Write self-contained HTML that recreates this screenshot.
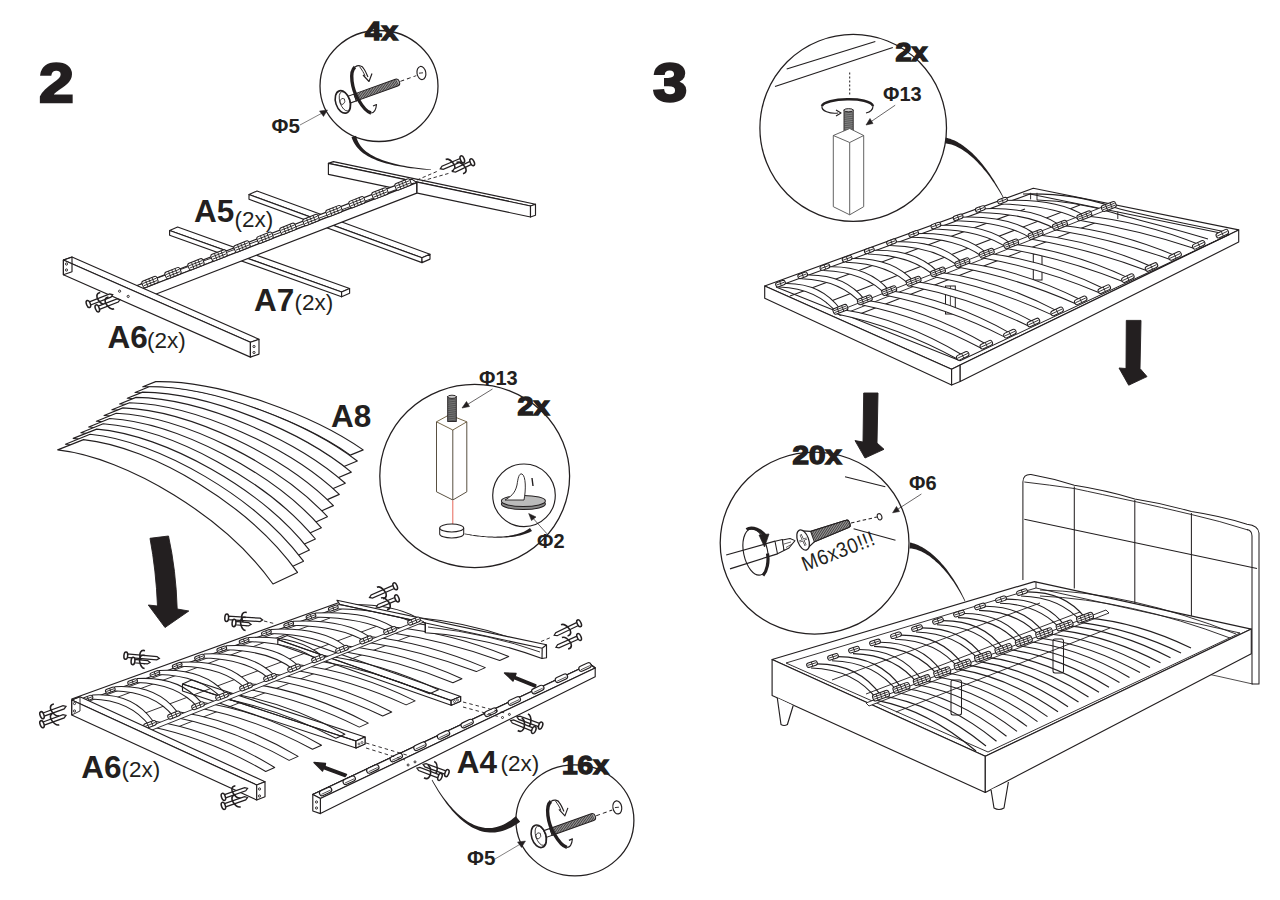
<!DOCTYPE html>
<html><head><meta charset="utf-8"><style>
html,body{margin:0;padding:0;background:#fff;}
svg{display:block;}
</style></head><body>
<svg width="1280" height="900" viewBox="0 0 1280 900">
<text transform="translate(39 102.3) scale(1.1 0.97)" x="0" y="0" font-family="Liberation Sans" font-size="57" font-weight="bold" fill="#231f20" stroke="#231f20" stroke-width="2.40">2</text>
<text transform="translate(653 101.2) scale(1.08 0.955)" x="0" y="0" font-family="Liberation Sans" font-size="57" font-weight="bold" fill="#231f20" stroke="#231f20" stroke-width="2.40">3</text>
<ellipse cx="379.0" cy="86.0" rx="59.0" ry="55.5" fill="#fff" stroke="#231f20" stroke-width="1.26" />
<g transform="translate(342.9 101.9) rotate(-19.7)">
<rect x="3" y="-3.6" width="10" height="7.2" fill="#fff" stroke="#231f20" stroke-width="1.03"/>
<path d="M13 -3.6 L57 -3.6 Q60 -3.6 60 0 Q60 3.6 57 3.6 L13 3.6 Z" fill="#aaa" stroke="#231f20" stroke-width="1.03"/>
<line x1="13.6" y1="-3.4" x2="14.6" y2="3.4" stroke="#231f20" stroke-width="0.69"/>
<line x1="15.2" y1="-3.4" x2="16.1" y2="3.4" stroke="#231f20" stroke-width="0.69"/>
<line x1="16.7" y1="-3.4" x2="17.7" y2="3.4" stroke="#231f20" stroke-width="0.69"/>
<line x1="18.2" y1="-3.4" x2="19.2" y2="3.4" stroke="#231f20" stroke-width="0.69"/>
<line x1="19.8" y1="-3.4" x2="20.8" y2="3.4" stroke="#231f20" stroke-width="0.69"/>
<line x1="21.4" y1="-3.4" x2="22.4" y2="3.4" stroke="#231f20" stroke-width="0.69"/>
<line x1="22.9" y1="-3.4" x2="23.9" y2="3.4" stroke="#231f20" stroke-width="0.69"/>
<line x1="24.4" y1="-3.4" x2="25.4" y2="3.4" stroke="#231f20" stroke-width="0.69"/>
<line x1="26.0" y1="-3.4" x2="27.0" y2="3.4" stroke="#231f20" stroke-width="0.69"/>
<line x1="27.6" y1="-3.4" x2="28.6" y2="3.4" stroke="#231f20" stroke-width="0.69"/>
<line x1="29.1" y1="-3.4" x2="30.1" y2="3.4" stroke="#231f20" stroke-width="0.69"/>
<line x1="30.6" y1="-3.4" x2="31.6" y2="3.4" stroke="#231f20" stroke-width="0.69"/>
<line x1="32.2" y1="-3.4" x2="33.2" y2="3.4" stroke="#231f20" stroke-width="0.69"/>
<line x1="33.8" y1="-3.4" x2="34.8" y2="3.4" stroke="#231f20" stroke-width="0.69"/>
<line x1="35.3" y1="-3.4" x2="36.3" y2="3.4" stroke="#231f20" stroke-width="0.69"/>
<line x1="36.9" y1="-3.4" x2="37.9" y2="3.4" stroke="#231f20" stroke-width="0.69"/>
<line x1="38.4" y1="-3.4" x2="39.4" y2="3.4" stroke="#231f20" stroke-width="0.69"/>
<line x1="40.0" y1="-3.4" x2="41.0" y2="3.4" stroke="#231f20" stroke-width="0.69"/>
<line x1="41.5" y1="-3.4" x2="42.5" y2="3.4" stroke="#231f20" stroke-width="0.69"/>
<line x1="43.0" y1="-3.4" x2="44.0" y2="3.4" stroke="#231f20" stroke-width="0.69"/>
<line x1="44.6" y1="-3.4" x2="45.6" y2="3.4" stroke="#231f20" stroke-width="0.69"/>
<line x1="46.2" y1="-3.4" x2="47.2" y2="3.4" stroke="#231f20" stroke-width="0.69"/>
<line x1="47.7" y1="-3.4" x2="48.7" y2="3.4" stroke="#231f20" stroke-width="0.69"/>
<line x1="49.2" y1="-3.4" x2="50.2" y2="3.4" stroke="#231f20" stroke-width="0.69"/>
<line x1="50.8" y1="-3.4" x2="51.8" y2="3.4" stroke="#231f20" stroke-width="0.69"/>
<line x1="52.4" y1="-3.4" x2="53.4" y2="3.4" stroke="#231f20" stroke-width="0.69"/>
<line x1="53.9" y1="-3.4" x2="54.9" y2="3.4" stroke="#231f20" stroke-width="0.69"/>
<line x1="55.5" y1="-3.4" x2="56.5" y2="3.4" stroke="#231f20" stroke-width="0.69"/>
<line x1="57.0" y1="-3.4" x2="58.0" y2="3.4" stroke="#231f20" stroke-width="0.69"/>
<line x1="61" y1="0" x2="78" y2="0" stroke="#231f20" stroke-width="0.92" stroke-dasharray="4 3"/>
</g>
<ellipse cx="342.9" cy="101.9" rx="7.2" ry="11.6" fill="#fff" stroke="#231f20" stroke-width="1.60" transform="rotate(-18 342.9 101.9)" />
<ellipse cx="344.7" cy="101.3" rx="4.8" ry="10.0" fill="none" stroke="#231f20" stroke-width="0.80" transform="rotate(-18 344.7 101.3)" />
<path d="M339.9 100.9 l2 -2.5 l2.5 0.5 l0.5 3 l-2 2.5 l-2.5 -0.5 z" fill="none" stroke="#231f20" stroke-width="0.80" stroke-linejoin="round" />
<ellipse cx="421.4" cy="73.0" rx="4.4" ry="6.6" fill="#fff" stroke="#231f20" stroke-width="1.15" transform="rotate(-10 421.4 73.0)" />
<line x1="419.0" y1="73.2" x2="423.0" y2="72.8" stroke="#231f20" stroke-width="0.92" />
<path d="M355.0 67.0 C349.0 72.0 352.0 89.0 358.0 99.0 C362.0 106.0 367.0 112.0 371.0 113.0" fill="none" stroke="#231f20" stroke-width="3.40" stroke-linejoin="round" />
<path d="M355.0 67.0 C358.0 65.0 362.0 65.0 364.0 69.0 C366.0 72.0 367.0 75.0 368.0 77.0" fill="none" stroke="#231f20" stroke-width="1.15" stroke-linejoin="round" />
<path d="M363.0 75.0 L369.0 81.5 L372.0 73.5" fill="none" stroke="#231f20" stroke-width="1.15" stroke-linejoin="round" />
<path d="M359.5 66.5 C362.0 70.0 364.0 73.0 365.0 76.0" fill="none" stroke="#231f20" stroke-width="0.92" stroke-linejoin="round" />
<path d="M371.0 113.0 C374.0 113.0 376.0 110.0 376.5 104.5 L373.0 106.0" fill="none" stroke="#231f20" stroke-width="1.15" stroke-linejoin="round" />
<text transform="translate(365.0 40.0) scale(1.18 1)" font-family="Liberation Sans" font-size="25" font-weight="bold" fill="#231f20" stroke="#231f20" stroke-width="1.40" text-anchor="start">4x</text>
<text transform="translate(271.5 132.8) scale(1.03 1)" font-family="Liberation Sans" font-size="20" font-weight="bold" fill="#231f20" text-anchor="start">Φ5</text>
<line x1="300.0" y1="125.0" x2="325.0" y2="111.5" stroke="#231f20" stroke-width="0.57" />
<path d="M327.5 110 L319.5 111 L323.5 116.5 Z" fill="#231f20" stroke="#231f20" stroke-width="0.46" stroke-linejoin="round" />
<polygon points="351.5,137.2 351.9,138.3 352.4,139.4 352.9,140.6 353.4,141.7 354.0,142.8 354.7,144.0 355.4,145.1 356.2,146.2 357.0,147.2 357.9,148.3 358.9,149.3 360.0,150.4 361.1,151.4 362.3,152.4 363.6,153.4 364.9,154.3 366.4,155.3 367.9,156.2 369.5,157.1 371.3,157.9 373.1,158.8 375.0,159.6 377.0,160.4 379.2,161.2 381.4,162.0 383.8,162.7 386.3,163.4 388.9,164.1 391.6,164.8 394.5,165.4 397.5,166.0 400.6,166.6 403.9,167.1 407.3,167.7 410.8,168.2 414.5,168.6 418.4,169.1 422.4,169.5 426.6,169.8 431.0,170.1 431.0,169.5 426.7,169.0 422.5,168.6 418.5,168.1 414.7,167.6 411.0,167.0 407.5,166.4 404.1,165.8 400.9,165.2 397.8,164.5 394.8,163.8 392.0,163.1 389.3,162.3 386.8,161.6 384.4,160.8 382.1,160.0 379.9,159.1 377.9,158.3 376.0,157.4 374.2,156.5 372.4,155.6 370.9,154.7 369.4,153.8 368.0,152.8 366.7,151.9 365.5,150.9 364.4,149.9 363.3,149.0 362.4,148.0 361.5,147.0 360.7,146.0 360.0,145.0 359.4,144.0 358.8,143.0 358.2,142.0 357.8,141.0 357.3,139.9 357.0,138.9 356.6,137.9 356.3,136.9 356.1,135.8" fill="#231f20" stroke="none"/>
<ellipse cx="574.9" cy="820.4" rx="59.0" ry="55.5" fill="#fff" stroke="#231f20" stroke-width="1.26" />
<g transform="translate(538.8 836.3) rotate(-19.7)">
<rect x="3" y="-3.6" width="10" height="7.2" fill="#fff" stroke="#231f20" stroke-width="1.03"/>
<path d="M13 -3.6 L57 -3.6 Q60 -3.6 60 0 Q60 3.6 57 3.6 L13 3.6 Z" fill="#aaa" stroke="#231f20" stroke-width="1.03"/>
<line x1="13.6" y1="-3.4" x2="14.6" y2="3.4" stroke="#231f20" stroke-width="0.69"/>
<line x1="15.2" y1="-3.4" x2="16.1" y2="3.4" stroke="#231f20" stroke-width="0.69"/>
<line x1="16.7" y1="-3.4" x2="17.7" y2="3.4" stroke="#231f20" stroke-width="0.69"/>
<line x1="18.2" y1="-3.4" x2="19.2" y2="3.4" stroke="#231f20" stroke-width="0.69"/>
<line x1="19.8" y1="-3.4" x2="20.8" y2="3.4" stroke="#231f20" stroke-width="0.69"/>
<line x1="21.4" y1="-3.4" x2="22.4" y2="3.4" stroke="#231f20" stroke-width="0.69"/>
<line x1="22.9" y1="-3.4" x2="23.9" y2="3.4" stroke="#231f20" stroke-width="0.69"/>
<line x1="24.4" y1="-3.4" x2="25.4" y2="3.4" stroke="#231f20" stroke-width="0.69"/>
<line x1="26.0" y1="-3.4" x2="27.0" y2="3.4" stroke="#231f20" stroke-width="0.69"/>
<line x1="27.6" y1="-3.4" x2="28.6" y2="3.4" stroke="#231f20" stroke-width="0.69"/>
<line x1="29.1" y1="-3.4" x2="30.1" y2="3.4" stroke="#231f20" stroke-width="0.69"/>
<line x1="30.6" y1="-3.4" x2="31.6" y2="3.4" stroke="#231f20" stroke-width="0.69"/>
<line x1="32.2" y1="-3.4" x2="33.2" y2="3.4" stroke="#231f20" stroke-width="0.69"/>
<line x1="33.8" y1="-3.4" x2="34.8" y2="3.4" stroke="#231f20" stroke-width="0.69"/>
<line x1="35.3" y1="-3.4" x2="36.3" y2="3.4" stroke="#231f20" stroke-width="0.69"/>
<line x1="36.9" y1="-3.4" x2="37.9" y2="3.4" stroke="#231f20" stroke-width="0.69"/>
<line x1="38.4" y1="-3.4" x2="39.4" y2="3.4" stroke="#231f20" stroke-width="0.69"/>
<line x1="40.0" y1="-3.4" x2="41.0" y2="3.4" stroke="#231f20" stroke-width="0.69"/>
<line x1="41.5" y1="-3.4" x2="42.5" y2="3.4" stroke="#231f20" stroke-width="0.69"/>
<line x1="43.0" y1="-3.4" x2="44.0" y2="3.4" stroke="#231f20" stroke-width="0.69"/>
<line x1="44.6" y1="-3.4" x2="45.6" y2="3.4" stroke="#231f20" stroke-width="0.69"/>
<line x1="46.2" y1="-3.4" x2="47.2" y2="3.4" stroke="#231f20" stroke-width="0.69"/>
<line x1="47.7" y1="-3.4" x2="48.7" y2="3.4" stroke="#231f20" stroke-width="0.69"/>
<line x1="49.2" y1="-3.4" x2="50.2" y2="3.4" stroke="#231f20" stroke-width="0.69"/>
<line x1="50.8" y1="-3.4" x2="51.8" y2="3.4" stroke="#231f20" stroke-width="0.69"/>
<line x1="52.4" y1="-3.4" x2="53.4" y2="3.4" stroke="#231f20" stroke-width="0.69"/>
<line x1="53.9" y1="-3.4" x2="54.9" y2="3.4" stroke="#231f20" stroke-width="0.69"/>
<line x1="55.5" y1="-3.4" x2="56.5" y2="3.4" stroke="#231f20" stroke-width="0.69"/>
<line x1="57.0" y1="-3.4" x2="58.0" y2="3.4" stroke="#231f20" stroke-width="0.69"/>
<line x1="61" y1="0" x2="78" y2="0" stroke="#231f20" stroke-width="0.92" stroke-dasharray="4 3"/>
</g>
<ellipse cx="538.8" cy="836.3" rx="7.2" ry="11.6" fill="#fff" stroke="#231f20" stroke-width="1.60" transform="rotate(-18 538.8 836.3)" />
<ellipse cx="540.6" cy="835.7" rx="4.8" ry="10.0" fill="none" stroke="#231f20" stroke-width="0.80" transform="rotate(-18 540.6 835.7)" />
<path d="M535.8 835.3 l2 -2.5 l2.5 0.5 l0.5 3 l-2 2.5 l-2.5 -0.5 z" fill="none" stroke="#231f20" stroke-width="0.80" stroke-linejoin="round" />
<ellipse cx="617.3" cy="807.4" rx="4.4" ry="6.6" fill="#fff" stroke="#231f20" stroke-width="1.15" transform="rotate(-10 617.3 807.4)" />
<line x1="614.9" y1="807.6" x2="618.9" y2="807.2" stroke="#231f20" stroke-width="0.92" />
<path d="M550.9 801.4 C544.9 806.4 547.9 823.4 553.9 833.4 C557.9 840.4 562.9 846.4 566.9 847.4" fill="none" stroke="#231f20" stroke-width="3.40" stroke-linejoin="round" />
<path d="M550.9 801.4 C553.9 799.4 557.9 799.4 559.9 803.4 C561.9 806.4 562.9 809.4 563.9 811.4" fill="none" stroke="#231f20" stroke-width="1.15" stroke-linejoin="round" />
<path d="M558.9 809.4 L564.9 815.9 L567.9 807.9" fill="none" stroke="#231f20" stroke-width="1.15" stroke-linejoin="round" />
<path d="M555.4 800.9 C557.9 804.4 559.9 807.4 560.9 810.4" fill="none" stroke="#231f20" stroke-width="0.92" stroke-linejoin="round" />
<path d="M566.9 847.4 C569.9 847.4 571.9 844.4 572.4 838.9 L568.9 840.4" fill="none" stroke="#231f20" stroke-width="1.15" stroke-linejoin="round" />
<text transform="translate(562.0 773.5) scale(1.12 1)" font-family="Liberation Sans" font-size="25" font-weight="bold" fill="#231f20" stroke="#231f20" stroke-width="1.40" text-anchor="start">16x</text>
<text transform="translate(467.0 864.7) scale(1.03 1)" font-family="Liberation Sans" font-size="20" font-weight="bold" fill="#231f20" text-anchor="start">Φ5</text>
<line x1="495.0" y1="859.0" x2="523.0" y2="842.5" stroke="#231f20" stroke-width="0.57" />
<path d="M525.5 841 L517.5 842 L521.5 847.5 Z" fill="#231f20" stroke="#231f20" stroke-width="0.46" stroke-linejoin="round" />
<polygon points="431.7,780.2 433.2,782.9 434.7,785.6 436.3,788.2 437.9,790.9 439.5,793.5 441.2,796.0 442.9,798.6 444.7,801.0 446.4,803.5 448.2,805.8 450.1,808.1 452.0,810.4 453.9,812.5 455.8,814.6 457.8,816.6 459.8,818.5 461.9,820.3 464.0,822.0 466.1,823.6 468.3,825.1 470.5,826.5 472.7,827.7 475.0,828.8 477.4,829.8 479.7,830.7 482.2,831.4 484.6,831.9 487.2,832.3 489.7,832.5 492.3,832.6 495.0,832.4 497.7,832.1 500.4,831.5 503.1,830.8 505.9,829.8 508.7,828.6 511.6,827.2 514.4,825.6 517.3,823.8 520.2,821.7 515.8,816.3 513.3,818.3 510.9,820.2 508.4,821.8 506.0,823.2 503.7,824.5 501.3,825.5 499.0,826.3 496.6,827.0 494.3,827.5 492.0,827.9 489.8,828.0 487.5,828.0 485.2,827.9 483.0,827.6 480.7,827.1 478.5,826.5 476.3,825.7 474.1,824.9 471.9,823.8 469.7,822.7 467.6,821.4 465.5,820.0 463.4,818.4 461.3,816.8 459.2,815.0 457.2,813.2 455.2,811.2 453.2,809.2 451.3,807.1 449.4,804.9 447.5,802.6 445.7,800.3 443.9,797.9 442.1,795.4 440.4,792.9 438.7,790.4 437.1,787.8 435.4,785.1 433.9,782.5 432.3,779.8" fill="#231f20" stroke="none"/>
<polygon points="169.6,230.5 341.6,292.0 349.6,288.5 177.6,227.0" fill="#fff" stroke="#231f20" stroke-width="1.15" stroke-linejoin="round" />
<polygon points="169.6,230.5 341.6,292.0 341.6,296.8 169.6,235.3" fill="#fff" stroke="#231f20" stroke-width="1.15" stroke-linejoin="round" />
<polygon points="341.6,292.0 349.6,288.5 349.6,293.3 341.6,296.8" fill="#fff" stroke="#231f20" stroke-width="1.15" stroke-linejoin="round" />
<polygon points="249.0,194.5 422.0,257.8 430.0,254.3 257.0,191.0" fill="#fff" stroke="#231f20" stroke-width="1.15" stroke-linejoin="round" />
<polygon points="249.0,194.5 422.0,257.8 422.0,262.6 249.0,199.3" fill="#fff" stroke="#231f20" stroke-width="1.15" stroke-linejoin="round" />
<polygon points="422.0,257.8 430.0,254.3 430.0,259.1 422.0,262.6" fill="#fff" stroke="#231f20" stroke-width="1.15" stroke-linejoin="round" />
<polygon points="328.4,163.4 530.5,206.0 535.5,204.2 333.4,161.6" fill="#fff" stroke="#231f20" stroke-width="1.15" stroke-linejoin="round" />
<polygon points="328.4,163.4 530.5,206.0 530.5,217.0 328.4,174.4" fill="#fff" stroke="#231f20" stroke-width="1.15" stroke-linejoin="round" />
<polygon points="530.5,206.0 535.5,204.2 535.5,215.2 530.5,217.0" fill="#fff" stroke="#231f20" stroke-width="1.15" stroke-linejoin="round" />
<polygon points="142.0,289.0 416.8,182.6 411.8,179.1 137.0,285.5" fill="#fff" stroke="#231f20" stroke-width="1.15" stroke-linejoin="round" />
<polygon points="142.0,289.0 416.8,182.6 416.8,193.1 142.0,299.5" fill="#fff" stroke="#231f20" stroke-width="1.15" stroke-linejoin="round" />
<line x1="416.8" y1="182.6" x2="416.8" y2="192.4" stroke="#231f20" stroke-width="1.15" />
<line x1="140.0" y1="284.5" x2="414.0" y2="183.0" stroke="#231f20" stroke-width="0.92" />
<g transform="translate(150.0 282.0) rotate(-21.5)">
<rect x="-8.0" y="-3.5" width="16" height="7" rx="2" fill="#fff" stroke="#231f20" stroke-width="1.03"/>
<line x1="-7.0" y1="-1.2" x2="7.0" y2="-1.2" stroke="#231f20" stroke-width="0.80"/>
<line x1="-7.0" y1="1.2" x2="7.0" y2="1.2" stroke="#231f20" stroke-width="0.80"/>
<line x1="-3.5" y1="-3.5" x2="-3.5" y2="3.5" stroke="#231f20" stroke-width="0.80"/>
<line x1="0" y1="-3.5" x2="0" y2="3.5" stroke="#231f20" stroke-width="0.80"/>
<line x1="3.5" y1="-3.5" x2="3.5" y2="3.5" stroke="#231f20" stroke-width="0.80"/>
</g>
<g transform="translate(173.0 273.1) rotate(-21.5)">
<rect x="-8.0" y="-3.5" width="16" height="7" rx="2" fill="#fff" stroke="#231f20" stroke-width="1.03"/>
<line x1="-7.0" y1="-1.2" x2="7.0" y2="-1.2" stroke="#231f20" stroke-width="0.80"/>
<line x1="-7.0" y1="1.2" x2="7.0" y2="1.2" stroke="#231f20" stroke-width="0.80"/>
<line x1="-3.5" y1="-3.5" x2="-3.5" y2="3.5" stroke="#231f20" stroke-width="0.80"/>
<line x1="0" y1="-3.5" x2="0" y2="3.5" stroke="#231f20" stroke-width="0.80"/>
<line x1="3.5" y1="-3.5" x2="3.5" y2="3.5" stroke="#231f20" stroke-width="0.80"/>
</g>
<g transform="translate(196.0 264.3) rotate(-21.5)">
<rect x="-8.0" y="-3.5" width="16" height="7" rx="2" fill="#fff" stroke="#231f20" stroke-width="1.03"/>
<line x1="-7.0" y1="-1.2" x2="7.0" y2="-1.2" stroke="#231f20" stroke-width="0.80"/>
<line x1="-7.0" y1="1.2" x2="7.0" y2="1.2" stroke="#231f20" stroke-width="0.80"/>
<line x1="-3.5" y1="-3.5" x2="-3.5" y2="3.5" stroke="#231f20" stroke-width="0.80"/>
<line x1="0" y1="-3.5" x2="0" y2="3.5" stroke="#231f20" stroke-width="0.80"/>
<line x1="3.5" y1="-3.5" x2="3.5" y2="3.5" stroke="#231f20" stroke-width="0.80"/>
</g>
<g transform="translate(219.0 255.4) rotate(-21.5)">
<rect x="-8.0" y="-3.5" width="16" height="7" rx="2" fill="#fff" stroke="#231f20" stroke-width="1.03"/>
<line x1="-7.0" y1="-1.2" x2="7.0" y2="-1.2" stroke="#231f20" stroke-width="0.80"/>
<line x1="-7.0" y1="1.2" x2="7.0" y2="1.2" stroke="#231f20" stroke-width="0.80"/>
<line x1="-3.5" y1="-3.5" x2="-3.5" y2="3.5" stroke="#231f20" stroke-width="0.80"/>
<line x1="0" y1="-3.5" x2="0" y2="3.5" stroke="#231f20" stroke-width="0.80"/>
<line x1="3.5" y1="-3.5" x2="3.5" y2="3.5" stroke="#231f20" stroke-width="0.80"/>
</g>
<g transform="translate(242.0 246.5) rotate(-21.5)">
<rect x="-8.0" y="-3.5" width="16" height="7" rx="2" fill="#fff" stroke="#231f20" stroke-width="1.03"/>
<line x1="-7.0" y1="-1.2" x2="7.0" y2="-1.2" stroke="#231f20" stroke-width="0.80"/>
<line x1="-7.0" y1="1.2" x2="7.0" y2="1.2" stroke="#231f20" stroke-width="0.80"/>
<line x1="-3.5" y1="-3.5" x2="-3.5" y2="3.5" stroke="#231f20" stroke-width="0.80"/>
<line x1="0" y1="-3.5" x2="0" y2="3.5" stroke="#231f20" stroke-width="0.80"/>
<line x1="3.5" y1="-3.5" x2="3.5" y2="3.5" stroke="#231f20" stroke-width="0.80"/>
</g>
<g transform="translate(265.0 237.7) rotate(-21.5)">
<rect x="-8.0" y="-3.5" width="16" height="7" rx="2" fill="#fff" stroke="#231f20" stroke-width="1.03"/>
<line x1="-7.0" y1="-1.2" x2="7.0" y2="-1.2" stroke="#231f20" stroke-width="0.80"/>
<line x1="-7.0" y1="1.2" x2="7.0" y2="1.2" stroke="#231f20" stroke-width="0.80"/>
<line x1="-3.5" y1="-3.5" x2="-3.5" y2="3.5" stroke="#231f20" stroke-width="0.80"/>
<line x1="0" y1="-3.5" x2="0" y2="3.5" stroke="#231f20" stroke-width="0.80"/>
<line x1="3.5" y1="-3.5" x2="3.5" y2="3.5" stroke="#231f20" stroke-width="0.80"/>
</g>
<g transform="translate(288.0 228.8) rotate(-21.5)">
<rect x="-8.0" y="-3.5" width="16" height="7" rx="2" fill="#fff" stroke="#231f20" stroke-width="1.03"/>
<line x1="-7.0" y1="-1.2" x2="7.0" y2="-1.2" stroke="#231f20" stroke-width="0.80"/>
<line x1="-7.0" y1="1.2" x2="7.0" y2="1.2" stroke="#231f20" stroke-width="0.80"/>
<line x1="-3.5" y1="-3.5" x2="-3.5" y2="3.5" stroke="#231f20" stroke-width="0.80"/>
<line x1="0" y1="-3.5" x2="0" y2="3.5" stroke="#231f20" stroke-width="0.80"/>
<line x1="3.5" y1="-3.5" x2="3.5" y2="3.5" stroke="#231f20" stroke-width="0.80"/>
</g>
<g transform="translate(311.0 220.0) rotate(-21.5)">
<rect x="-8.0" y="-3.5" width="16" height="7" rx="2" fill="#fff" stroke="#231f20" stroke-width="1.03"/>
<line x1="-7.0" y1="-1.2" x2="7.0" y2="-1.2" stroke="#231f20" stroke-width="0.80"/>
<line x1="-7.0" y1="1.2" x2="7.0" y2="1.2" stroke="#231f20" stroke-width="0.80"/>
<line x1="-3.5" y1="-3.5" x2="-3.5" y2="3.5" stroke="#231f20" stroke-width="0.80"/>
<line x1="0" y1="-3.5" x2="0" y2="3.5" stroke="#231f20" stroke-width="0.80"/>
<line x1="3.5" y1="-3.5" x2="3.5" y2="3.5" stroke="#231f20" stroke-width="0.80"/>
</g>
<g transform="translate(334.0 211.1) rotate(-21.5)">
<rect x="-8.0" y="-3.5" width="16" height="7" rx="2" fill="#fff" stroke="#231f20" stroke-width="1.03"/>
<line x1="-7.0" y1="-1.2" x2="7.0" y2="-1.2" stroke="#231f20" stroke-width="0.80"/>
<line x1="-7.0" y1="1.2" x2="7.0" y2="1.2" stroke="#231f20" stroke-width="0.80"/>
<line x1="-3.5" y1="-3.5" x2="-3.5" y2="3.5" stroke="#231f20" stroke-width="0.80"/>
<line x1="0" y1="-3.5" x2="0" y2="3.5" stroke="#231f20" stroke-width="0.80"/>
<line x1="3.5" y1="-3.5" x2="3.5" y2="3.5" stroke="#231f20" stroke-width="0.80"/>
</g>
<g transform="translate(357.0 202.2) rotate(-21.5)">
<rect x="-8.0" y="-3.5" width="16" height="7" rx="2" fill="#fff" stroke="#231f20" stroke-width="1.03"/>
<line x1="-7.0" y1="-1.2" x2="7.0" y2="-1.2" stroke="#231f20" stroke-width="0.80"/>
<line x1="-7.0" y1="1.2" x2="7.0" y2="1.2" stroke="#231f20" stroke-width="0.80"/>
<line x1="-3.5" y1="-3.5" x2="-3.5" y2="3.5" stroke="#231f20" stroke-width="0.80"/>
<line x1="0" y1="-3.5" x2="0" y2="3.5" stroke="#231f20" stroke-width="0.80"/>
<line x1="3.5" y1="-3.5" x2="3.5" y2="3.5" stroke="#231f20" stroke-width="0.80"/>
</g>
<g transform="translate(380.0 193.4) rotate(-21.5)">
<rect x="-8.0" y="-3.5" width="16" height="7" rx="2" fill="#fff" stroke="#231f20" stroke-width="1.03"/>
<line x1="-7.0" y1="-1.2" x2="7.0" y2="-1.2" stroke="#231f20" stroke-width="0.80"/>
<line x1="-7.0" y1="1.2" x2="7.0" y2="1.2" stroke="#231f20" stroke-width="0.80"/>
<line x1="-3.5" y1="-3.5" x2="-3.5" y2="3.5" stroke="#231f20" stroke-width="0.80"/>
<line x1="0" y1="-3.5" x2="0" y2="3.5" stroke="#231f20" stroke-width="0.80"/>
<line x1="3.5" y1="-3.5" x2="3.5" y2="3.5" stroke="#231f20" stroke-width="0.80"/>
</g>
<g transform="translate(403.0 184.5) rotate(-21.5)">
<rect x="-8.0" y="-3.5" width="16" height="7" rx="2" fill="#fff" stroke="#231f20" stroke-width="1.03"/>
<line x1="-7.0" y1="-1.2" x2="7.0" y2="-1.2" stroke="#231f20" stroke-width="0.80"/>
<line x1="-7.0" y1="1.2" x2="7.0" y2="1.2" stroke="#231f20" stroke-width="0.80"/>
<line x1="-3.5" y1="-3.5" x2="-3.5" y2="3.5" stroke="#231f20" stroke-width="0.80"/>
<line x1="0" y1="-3.5" x2="0" y2="3.5" stroke="#231f20" stroke-width="0.80"/>
<line x1="3.5" y1="-3.5" x2="3.5" y2="3.5" stroke="#231f20" stroke-width="0.80"/>
</g>
<polygon points="63.4,260.0 250.4,342.3 259.0,339.3 72.0,257.0" fill="#fff" stroke="#231f20" stroke-width="1.15" stroke-linejoin="round" />
<polygon points="63.4,260.0 250.4,342.3 250.4,357.1 63.4,274.8" fill="#fff" stroke="#231f20" stroke-width="1.15" stroke-linejoin="round" />
<polygon points="250.4,342.3 259.0,339.3 259.0,354.1 250.4,357.1" fill="#fff" stroke="#231f20" stroke-width="1.15" stroke-linejoin="round" />
<polygon points="63.4,260.0 72.0,257.0 72.0,271.8 63.4,274.8" fill="none" stroke="#231f20" stroke-width="1.15" stroke-linejoin="round" />
<ellipse cx="66.5" cy="264.0" rx="1.1" ry="1.1" fill="none" stroke="#231f20" stroke-width="0.92" />
<ellipse cx="66.5" cy="270.0" rx="1.1" ry="1.1" fill="none" stroke="#231f20" stroke-width="0.92" />
<ellipse cx="254.0" cy="346.5" rx="1.1" ry="1.1" fill="none" stroke="#231f20" stroke-width="0.92" />
<ellipse cx="254.0" cy="352.5" rx="1.1" ry="1.1" fill="none" stroke="#231f20" stroke-width="0.92" />
<ellipse cx="119.6" cy="291.2" rx="1.1" ry="1.1" fill="none" stroke="#231f20" stroke-width="0.92" />
<ellipse cx="128.2" cy="296.4" rx="1.1" ry="1.1" fill="none" stroke="#231f20" stroke-width="0.92" />
<text transform="translate(194.0 221.7) scale(1.0 1)" font-family="Liberation Sans" font-size="31.5" font-weight="bold" fill="#231f20" text-anchor="start">A5</text>
<text transform="translate(234.5 226.6) scale(1.0 1)" font-family="Liberation Sans" font-size="22.5" font-weight="normal" fill="#231f20" text-anchor="start">(2x)</text>
<text transform="translate(254.0 311.0) scale(1.0 1)" font-family="Liberation Sans" font-size="31.5" font-weight="bold" fill="#231f20" text-anchor="start">A7</text>
<text transform="translate(294.5 310.0) scale(1.0 1)" font-family="Liberation Sans" font-size="22.5" font-weight="normal" fill="#231f20" text-anchor="start">(2x)</text>
<text transform="translate(107.5 348.4) scale(1.0 1)" font-family="Liberation Sans" font-size="31.5" font-weight="bold" fill="#231f20" text-anchor="start">A6</text>
<text transform="translate(147.0 347.5) scale(1.0 1)" font-family="Liberation Sans" font-size="22.5" font-weight="normal" fill="#231f20" text-anchor="start">(2x)</text>
<path d="M142.8 386.8 C209.8 385.5 302.6 421.6 350.3 455.1 L363.2 449.9 C315.5 416.4 222.7 380.3 155.7 381.6 Z" fill="#fff" stroke="#231f20" stroke-width="1.15" stroke-linejoin="round" />
<path d="M135.1 392.5 C202.3 392.0 295.6 430.2 343.3 466.8 L357.3 461.0 C309.6 424.5 216.4 386.3 149.1 386.8 Z" fill="#fff" stroke="#231f20" stroke-width="1.15" stroke-linejoin="round" />
<path d="M127.3 398.2 C194.8 398.6 288.6 438.9 336.3 478.5 L351.3 472.1 C303.7 432.6 210.0 392.4 142.6 392.1 Z" fill="#fff" stroke="#231f20" stroke-width="1.15" stroke-linejoin="round" />
<path d="M119.6 404.0 C187.3 405.2 281.5 447.6 329.2 490.2 L345.3 483.3 C297.7 440.7 203.6 398.4 136.0 397.4 Z" fill="#fff" stroke="#231f20" stroke-width="1.15" stroke-linejoin="round" />
<path d="M111.9 409.7 C179.8 411.7 274.5 456.2 322.2 501.9 L339.3 494.4 C291.8 448.9 197.3 404.5 129.5 402.7 Z" fill="#fff" stroke="#231f20" stroke-width="1.15" stroke-linejoin="round" />
<path d="M104.1 415.5 C172.3 418.3 267.5 464.9 315.2 513.7 L333.4 505.6 C285.9 457.0 190.9 410.6 122.9 407.9 Z" fill="#fff" stroke="#231f20" stroke-width="1.15" stroke-linejoin="round" />
<path d="M96.4 421.2 C164.8 424.8 260.5 473.6 308.1 525.4 L327.4 516.7 C279.9 465.1 184.5 416.6 116.3 413.2 Z" fill="#fff" stroke="#231f20" stroke-width="1.15" stroke-linejoin="round" />
<path d="M88.7 427.0 C157.3 431.4 253.4 482.3 301.1 537.1 L321.4 527.8 C274.0 473.3 178.2 422.7 109.8 418.5 Z" fill="#fff" stroke="#231f20" stroke-width="1.15" stroke-linejoin="round" />
<path d="M80.9 432.7 C149.8 438.0 246.4 490.9 294.1 548.8 L315.4 539.0 C268.0 481.4 171.8 428.7 103.2 423.8 Z" fill="#fff" stroke="#231f20" stroke-width="1.15" stroke-linejoin="round" />
<path d="M73.2 438.4 C142.3 444.5 239.4 499.6 287.1 560.5 L309.4 550.1 C262.1 489.5 165.4 434.8 96.7 429.1 Z" fill="#fff" stroke="#231f20" stroke-width="1.15" stroke-linejoin="round" />
<path d="M65.5 444.2 C134.8 451.1 232.3 508.3 280.0 572.3 L303.5 561.2 C256.2 497.6 159.1 440.9 90.1 434.3 Z" fill="#fff" stroke="#231f20" stroke-width="1.15" stroke-linejoin="round" />
<path d="M57.7 449.9 C127.3 457.7 225.3 516.9 273.0 584.0 L297.5 572.4 C250.2 505.8 152.7 446.9 83.5 439.6 Z" fill="#fff" stroke="#231f20" stroke-width="1.15" stroke-linejoin="round" />
<text transform="translate(331.0 426.9) scale(1.0 1)" font-family="Liberation Sans" font-size="31.5" font-weight="bold" fill="#231f20" text-anchor="start">A8</text>
<path d="M150 538.3 L168.5 536 Q176 570 177.2 609 L188.8 611 L165 627.5 L148.3 605 L157.5 606 Q156 570 150 538.3 Z" fill="#231f20" stroke="#231f20" stroke-width="0.92" stroke-linejoin="round" />
<ellipse cx="474.7" cy="476.0" rx="94.9" ry="91.6" fill="none" stroke="#231f20" stroke-width="1.26" />
<text transform="translate(479.0 384.5) scale(1.0 1)" font-family="Liberation Sans" font-size="20" font-weight="bold" fill="#231f20" text-anchor="start">Φ13</text>
<text transform="translate(517.5 414.8) scale(1.15 1)" font-family="Liberation Sans" font-size="25" font-weight="bold" fill="#231f20" stroke="#231f20" stroke-width="1.40" text-anchor="start">2x</text>
<line x1="492.5" y1="389.0" x2="465.0" y2="406.0" stroke="#231f20" stroke-width="0.69" />
<path d="M462 408 L466.5 401.5 L469.5 406.5 Z" fill="#231f20" stroke="#231f20" stroke-width="0.57" stroke-linejoin="round" />
<polygon points="436.5,421.8 449.3,414.8 466.8,421.8 452.8,430.0" fill="#fff" stroke="#6b5a3a" stroke-width="0.92" stroke-linejoin="round" />
<polyline points="436.5,421.8 436.5,491.8 452.8,500.0 466.8,491.8 466.8,421.8" fill="none" stroke="#4a4030" stroke-width="0.92" stroke-linejoin="round" />
<line x1="452.8" y1="430.0" x2="452.8" y2="500.0" stroke="#4a4030" stroke-width="0.92" />
<rect x="447.7" y="396.5" width="8.6" height="25" fill="#777" stroke="#231f20" stroke-width="0.92"/>
<line x1="448.0" y1="399.0" x2="456.0" y2="400.0" stroke="#333" stroke-width="0.57" />
<line x1="448.0" y1="400.9" x2="456.0" y2="401.9" stroke="#333" stroke-width="0.57" />
<line x1="448.0" y1="402.8" x2="456.0" y2="403.8" stroke="#333" stroke-width="0.57" />
<line x1="448.0" y1="404.7" x2="456.0" y2="405.7" stroke="#333" stroke-width="0.57" />
<line x1="448.0" y1="406.6" x2="456.0" y2="407.6" stroke="#333" stroke-width="0.57" />
<line x1="448.0" y1="408.5" x2="456.0" y2="409.5" stroke="#333" stroke-width="0.57" />
<line x1="448.0" y1="410.4" x2="456.0" y2="411.4" stroke="#333" stroke-width="0.57" />
<line x1="448.0" y1="412.3" x2="456.0" y2="413.3" stroke="#333" stroke-width="0.57" />
<line x1="448.0" y1="414.2" x2="456.0" y2="415.2" stroke="#333" stroke-width="0.57" />
<line x1="448.0" y1="416.1" x2="456.0" y2="417.1" stroke="#333" stroke-width="0.57" />
<line x1="448.0" y1="418.0" x2="456.0" y2="419.0" stroke="#333" stroke-width="0.57" />
<line x1="448.0" y1="419.9" x2="456.0" y2="420.9" stroke="#333" stroke-width="0.57" />
<ellipse cx="452.0" cy="396.8" rx="4.3" ry="1.6" fill="#ccc" stroke="#231f20" stroke-width="0.92" />
<line x1="452.8" y1="500.5" x2="452.8" y2="524.0" stroke="#e04030" stroke-width="0.80" />
<path d="M439.7 528 L439.7 534 A12 4 0 0 0 463.7 534 L463.7 528" fill="#fff" stroke="#231f20" stroke-width="1.03" stroke-linejoin="round" />
<ellipse cx="451.7" cy="528.0" rx="12.0" ry="4.0" fill="#fff" stroke="#231f20" stroke-width="1.03" />
<ellipse cx="524.0" cy="495.3" rx="31.3" ry="31.3" fill="#fff" stroke="#231f20" stroke-width="1.15" />
<ellipse cx="523.4" cy="504.0" rx="22.0" ry="5.5" fill="#888" stroke="#231f20" stroke-width="1.03" />
<ellipse cx="523.4" cy="501.0" rx="22.0" ry="5.5" fill="#bbb" stroke="#231f20" stroke-width="1.03" />
<path d="M505 500 C510 497 515 494 517 485 C518 478 519 473 522 474 C526 476 526 490 524 500 Z" fill="#fff" stroke="#231f20" stroke-width="0.92" stroke-linejoin="round" />
<path d="M532 478 L533 486" fill="none" stroke="#231f20" stroke-width="1.38" stroke-linejoin="round" />
<polygon points="464.4,534.2 466.0,534.5 467.6,534.8 469.2,535.1 470.8,535.4 472.5,535.6 474.2,535.9 476.0,536.2 477.7,536.4 479.5,536.6 481.2,536.8 483.0,537.0 484.8,537.1 486.7,537.3 488.5,537.4 490.3,537.5 492.1,537.6 494.0,537.7 495.8,537.7 497.6,537.7 499.5,537.7 501.3,537.7 503.1,537.6 504.9,537.6 506.6,537.4 508.4,537.3 510.2,537.1 511.9,536.9 513.6,536.7 515.3,536.4 517.0,536.1 518.6,535.8 520.2,535.4 521.8,535.0 523.3,534.6 524.9,534.1 526.4,533.6 527.8,533.0 529.2,532.4 530.6,531.7 532.0,531.0 530.0,528.0 528.9,528.8 527.8,529.6 526.5,530.3 525.2,531.0 523.9,531.7 522.5,532.3 521.1,532.8 519.6,533.3 518.1,533.8 516.5,534.2 514.9,534.6 513.3,535.0 511.6,535.3 510.0,535.6 508.3,535.9 506.5,536.1 504.8,536.2 503.0,536.4 501.2,536.5 499.4,536.6 497.6,536.6 495.8,536.7 494.0,536.7 492.2,536.6 490.4,536.6 488.5,536.5 486.7,536.4 484.9,536.3 483.1,536.1 481.3,536.0 479.6,535.8 477.8,535.6 476.1,535.3 474.3,535.1 472.6,534.9 471.0,534.6 469.3,534.3 467.7,534.0 466.1,533.7 464.6,533.4" fill="#231f20" stroke="none"/>
<text transform="translate(537.0 547.8) scale(1.0 1)" font-family="Liberation Sans" font-size="20" font-weight="bold" fill="#231f20" text-anchor="start">Φ2</text>
<line x1="547.0" y1="533.8" x2="531.0" y2="516.0" stroke="#231f20" stroke-width="0.69" />
<path d="M528.7 513.5 L536 517 L531.5 520.5 Z" fill="#231f20" stroke="#231f20" stroke-width="0.57" stroke-linejoin="round" />
<polygon points="71.7,699.0 341.2,601.7 345.0,605.0 78.0,703.5" fill="#fff" stroke="#231f20" stroke-width="1.15" stroke-linejoin="round" />
<line x1="80.0" y1="704.5" x2="344.0" y2="608.0" stroke="#231f20" stroke-width="0.92" />
<line x1="110.0" y1="700.0" x2="330.0" y2="618.0" stroke="#231f20" stroke-width="0.92" />
<line x1="170.0" y1="730.0" x2="410.0" y2="636.0" stroke="#231f20" stroke-width="0.92" />
<line x1="140.0" y1="715.0" x2="380.0" y2="625.0" stroke="#231f20" stroke-width="0.92" />
<path d="M92.5 695.0 Q132.4 692.5 153.0 721.0 Q213.8 730.3 274.7 767.5 L265.7 771.5 Q208.8 738.3 150.0 726.5 Q130.4 700.0 91.5 699.0 Z" fill="#fff" stroke="#231f20" stroke-width="1.03" stroke-linejoin="round"/>
<path d="M114.8 686.8 Q155.9 684.3 177.0 711.6 Q237.5 720.6 298.1 756.4 L289.1 760.4 Q232.5 728.6 174.0 717.1 Q153.9 691.8 113.8 690.8 Z" fill="#fff" stroke="#231f20" stroke-width="1.03" stroke-linejoin="round"/>
<path d="M137.1 678.6 Q179.3 676.1 201.0 702.2 Q261.2 710.8 321.5 745.3 L312.5 749.3 Q256.2 718.8 198.0 707.7 Q177.3 683.6 136.1 682.6 Z" fill="#fff" stroke="#231f20" stroke-width="1.03" stroke-linejoin="round"/>
<path d="M159.4 670.4 Q202.7 667.9 225.0 692.8 Q284.9 701.1 344.9 734.2 L335.9 738.2 Q279.9 709.1 222.0 698.3 Q200.7 675.4 158.4 674.4 Z" fill="#fff" stroke="#231f20" stroke-width="1.03" stroke-linejoin="round"/>
<path d="M181.7 662.2 Q226.1 659.7 249.0 683.4 Q308.6 691.3 368.3 723.1 L359.3 727.1 Q303.6 699.3 246.0 688.9 Q224.1 667.2 180.7 666.2 Z" fill="#fff" stroke="#231f20" stroke-width="1.03" stroke-linejoin="round"/>
<path d="M204.0 654.0 Q249.5 651.5 273.0 674.0 Q332.4 681.6 391.7 712.0 L382.7 716.0 Q327.4 689.6 270.0 679.5 Q247.5 659.0 203.0 658.0 Z" fill="#fff" stroke="#231f20" stroke-width="1.03" stroke-linejoin="round"/>
<path d="M226.3 645.8 Q273.0 643.3 297.0 664.6 Q356.0 671.9 415.1 700.9 L406.1 704.9 Q351.0 679.9 294.0 670.1 Q271.0 650.8 225.3 649.8 Z" fill="#fff" stroke="#231f20" stroke-width="1.03" stroke-linejoin="round"/>
<path d="M248.6 637.6 Q296.4 635.1 321.0 655.2 Q379.8 662.1 438.5 689.8 L429.5 693.8 Q374.8 670.1 318.0 660.7 Q294.4 642.6 247.6 641.6 Z" fill="#fff" stroke="#231f20" stroke-width="1.03" stroke-linejoin="round"/>
<path d="M270.9 629.4 Q319.8 626.9 345.0 645.8 Q403.4 652.4 461.9 678.7 L452.9 682.7 Q398.4 660.4 342.0 651.3 Q317.8 634.4 269.9 633.4 Z" fill="#fff" stroke="#231f20" stroke-width="1.03" stroke-linejoin="round"/>
<path d="M293.2 621.2 Q343.2 618.7 369.0 636.4 Q427.1 642.6 485.3 667.6 L476.3 671.6 Q422.1 650.6 366.0 641.9 Q341.2 626.2 292.2 625.2 Z" fill="#fff" stroke="#231f20" stroke-width="1.03" stroke-linejoin="round"/>
<path d="M315.5 613.0 Q366.6 610.5 393.0 627.0 Q450.9 632.9 508.7 656.5 L499.7 660.5 Q445.9 640.9 390.0 632.5 Q364.6 618.0 314.5 617.0 Z" fill="#fff" stroke="#231f20" stroke-width="1.03" stroke-linejoin="round"/>
<path d="M337.8 604.8 Q390.1 602.3 417.0 617.6 Q474.5 623.2 532.1 645.4 L523.1 649.4 Q469.5 631.2 414.0 623.1 Q388.1 609.8 336.8 608.8 Z" fill="#fff" stroke="#231f20" stroke-width="1.03" stroke-linejoin="round"/>
<path d="M337 600.3 L546.5 644.8 L546.5 657.7 L542 658.5 Q480 636 425.3 632.7 L425.3 622.9 L340 604.5 Z" fill="#fff" stroke="#231f20" stroke-width="1.15" stroke-linejoin="round" />
<line x1="340.0" y1="604.5" x2="542.2" y2="648.2" stroke="#231f20" stroke-width="1.15" />
<line x1="542.2" y1="648.2" x2="546.5" y2="644.8" stroke="#231f20" stroke-width="1.15" />
<line x1="542.2" y1="648.2" x2="542.0" y2="658.5" stroke="#231f20" stroke-width="1.15" />
<line x1="425.3" y1="622.9" x2="425.3" y2="632.7" stroke="#231f20" stroke-width="1.15" />
<path d="M428 627 Q490 634 540 652" fill="none" stroke="#231f20" stroke-width="0.92" stroke-linejoin="round" />
<polygon points="182.5,684.0 356.0,741.0 365.0,737.0 191.5,680.0" fill="none" stroke="#231f20" stroke-width="1.15" stroke-linejoin="round" />
<polygon points="182.5,684.0 356.0,741.0 356.0,748.0 182.5,691.0" fill="none" stroke="#231f20" stroke-width="1.15" stroke-linejoin="round" />
<polygon points="356.0,741.0 365.0,737.0 365.0,744.0 356.0,748.0" fill="none" stroke="#231f20" stroke-width="1.15" stroke-linejoin="round" />
<polygon points="356.0,741.0 365.0,737.0 365.0,744.0 356.0,748.0" fill="#fff" stroke="#231f20" stroke-width="1.15" stroke-linejoin="round" />
<polygon points="277.8,639.5 451.2,700.5 460.6,696.5 287.2,635.5" fill="none" stroke="#231f20" stroke-width="1.15" stroke-linejoin="round" />
<polygon points="277.8,639.5 451.2,700.5 451.2,705.2 277.8,644.2" fill="none" stroke="#231f20" stroke-width="1.15" stroke-linejoin="round" />
<polygon points="451.2,700.5 460.6,696.5 460.6,701.2 451.2,705.2" fill="none" stroke="#231f20" stroke-width="1.15" stroke-linejoin="round" />
<polygon points="451.2,700.5 460.6,696.5 460.6,701.2 451.2,705.2" fill="#fff" stroke="#231f20" stroke-width="1.15" stroke-linejoin="round" />
<ellipse cx="359.0" cy="744.0" rx="1.0" ry="1.0" fill="none" stroke="#231f20" stroke-width="0.69" />
<ellipse cx="362.0" cy="742.5" rx="1.0" ry="1.0" fill="none" stroke="#231f20" stroke-width="0.69" />
<ellipse cx="454.5" cy="701.5" rx="1.0" ry="1.0" fill="none" stroke="#231f20" stroke-width="0.69" />
<ellipse cx="457.5" cy="700.0" rx="1.0" ry="1.0" fill="none" stroke="#231f20" stroke-width="0.69" />
<polygon points="143.0,729.0 420.0,620.0 424.0,622.0 147.0,732.0" fill="#fff" stroke="#231f20" stroke-width="0.92" stroke-linejoin="round" />
<g transform="translate(150.0 724.5) rotate(-21.5)"><rect x="-6.5" y="-2.4" width="13.0" height="4.8" rx="2.2" fill="#fff" stroke="#231f20" stroke-width="1.03"/><line x1="-5.7" y1="0.0" x2="5.7" y2="0.0" stroke="#231f20" stroke-width="0.80"/><line x1="-2.2" y1="-2.4" x2="-2.2" y2="2.4" stroke="#231f20" stroke-width="0.80"/><line x1="2.2" y1="-2.4" x2="2.2" y2="2.4" stroke="#231f20" stroke-width="0.80"/></g>
<g transform="translate(174.0 715.1) rotate(-21.5)"><rect x="-6.5" y="-2.4" width="13.0" height="4.8" rx="2.2" fill="#fff" stroke="#231f20" stroke-width="1.03"/><line x1="-5.7" y1="0.0" x2="5.7" y2="0.0" stroke="#231f20" stroke-width="0.80"/><line x1="-2.2" y1="-2.4" x2="-2.2" y2="2.4" stroke="#231f20" stroke-width="0.80"/><line x1="2.2" y1="-2.4" x2="2.2" y2="2.4" stroke="#231f20" stroke-width="0.80"/></g>
<g transform="translate(198.0 705.7) rotate(-21.5)"><rect x="-6.5" y="-2.4" width="13.0" height="4.8" rx="2.2" fill="#fff" stroke="#231f20" stroke-width="1.03"/><line x1="-5.7" y1="0.0" x2="5.7" y2="0.0" stroke="#231f20" stroke-width="0.80"/><line x1="-2.2" y1="-2.4" x2="-2.2" y2="2.4" stroke="#231f20" stroke-width="0.80"/><line x1="2.2" y1="-2.4" x2="2.2" y2="2.4" stroke="#231f20" stroke-width="0.80"/></g>
<g transform="translate(222.0 696.3) rotate(-21.5)"><rect x="-6.5" y="-2.4" width="13.0" height="4.8" rx="2.2" fill="#fff" stroke="#231f20" stroke-width="1.03"/><line x1="-5.7" y1="0.0" x2="5.7" y2="0.0" stroke="#231f20" stroke-width="0.80"/><line x1="-2.2" y1="-2.4" x2="-2.2" y2="2.4" stroke="#231f20" stroke-width="0.80"/><line x1="2.2" y1="-2.4" x2="2.2" y2="2.4" stroke="#231f20" stroke-width="0.80"/></g>
<g transform="translate(246.0 686.9) rotate(-21.5)"><rect x="-6.5" y="-2.4" width="13.0" height="4.8" rx="2.2" fill="#fff" stroke="#231f20" stroke-width="1.03"/><line x1="-5.7" y1="0.0" x2="5.7" y2="0.0" stroke="#231f20" stroke-width="0.80"/><line x1="-2.2" y1="-2.4" x2="-2.2" y2="2.4" stroke="#231f20" stroke-width="0.80"/><line x1="2.2" y1="-2.4" x2="2.2" y2="2.4" stroke="#231f20" stroke-width="0.80"/></g>
<g transform="translate(270.0 677.5) rotate(-21.5)"><rect x="-6.5" y="-2.4" width="13.0" height="4.8" rx="2.2" fill="#fff" stroke="#231f20" stroke-width="1.03"/><line x1="-5.7" y1="0.0" x2="5.7" y2="0.0" stroke="#231f20" stroke-width="0.80"/><line x1="-2.2" y1="-2.4" x2="-2.2" y2="2.4" stroke="#231f20" stroke-width="0.80"/><line x1="2.2" y1="-2.4" x2="2.2" y2="2.4" stroke="#231f20" stroke-width="0.80"/></g>
<g transform="translate(294.0 668.1) rotate(-21.5)"><rect x="-6.5" y="-2.4" width="13.0" height="4.8" rx="2.2" fill="#fff" stroke="#231f20" stroke-width="1.03"/><line x1="-5.7" y1="0.0" x2="5.7" y2="0.0" stroke="#231f20" stroke-width="0.80"/><line x1="-2.2" y1="-2.4" x2="-2.2" y2="2.4" stroke="#231f20" stroke-width="0.80"/><line x1="2.2" y1="-2.4" x2="2.2" y2="2.4" stroke="#231f20" stroke-width="0.80"/></g>
<g transform="translate(318.0 658.7) rotate(-21.5)"><rect x="-6.5" y="-2.4" width="13.0" height="4.8" rx="2.2" fill="#fff" stroke="#231f20" stroke-width="1.03"/><line x1="-5.7" y1="0.0" x2="5.7" y2="0.0" stroke="#231f20" stroke-width="0.80"/><line x1="-2.2" y1="-2.4" x2="-2.2" y2="2.4" stroke="#231f20" stroke-width="0.80"/><line x1="2.2" y1="-2.4" x2="2.2" y2="2.4" stroke="#231f20" stroke-width="0.80"/></g>
<g transform="translate(342.0 649.3) rotate(-21.5)"><rect x="-6.5" y="-2.4" width="13.0" height="4.8" rx="2.2" fill="#fff" stroke="#231f20" stroke-width="1.03"/><line x1="-5.7" y1="0.0" x2="5.7" y2="0.0" stroke="#231f20" stroke-width="0.80"/><line x1="-2.2" y1="-2.4" x2="-2.2" y2="2.4" stroke="#231f20" stroke-width="0.80"/><line x1="2.2" y1="-2.4" x2="2.2" y2="2.4" stroke="#231f20" stroke-width="0.80"/></g>
<g transform="translate(366.0 639.9) rotate(-21.5)"><rect x="-6.5" y="-2.4" width="13.0" height="4.8" rx="2.2" fill="#fff" stroke="#231f20" stroke-width="1.03"/><line x1="-5.7" y1="0.0" x2="5.7" y2="0.0" stroke="#231f20" stroke-width="0.80"/><line x1="-2.2" y1="-2.4" x2="-2.2" y2="2.4" stroke="#231f20" stroke-width="0.80"/><line x1="2.2" y1="-2.4" x2="2.2" y2="2.4" stroke="#231f20" stroke-width="0.80"/></g>
<g transform="translate(390.0 630.5) rotate(-21.5)"><rect x="-6.5" y="-2.4" width="13.0" height="4.8" rx="2.2" fill="#fff" stroke="#231f20" stroke-width="1.03"/><line x1="-5.7" y1="0.0" x2="5.7" y2="0.0" stroke="#231f20" stroke-width="0.80"/><line x1="-2.2" y1="-2.4" x2="-2.2" y2="2.4" stroke="#231f20" stroke-width="0.80"/><line x1="2.2" y1="-2.4" x2="2.2" y2="2.4" stroke="#231f20" stroke-width="0.80"/></g>
<g transform="translate(414.0 621.1) rotate(-21.5)"><rect x="-6.5" y="-2.4" width="13.0" height="4.8" rx="2.2" fill="#fff" stroke="#231f20" stroke-width="1.03"/><line x1="-5.7" y1="0.0" x2="5.7" y2="0.0" stroke="#231f20" stroke-width="0.80"/><line x1="-2.2" y1="-2.4" x2="-2.2" y2="2.4" stroke="#231f20" stroke-width="0.80"/><line x1="2.2" y1="-2.4" x2="2.2" y2="2.4" stroke="#231f20" stroke-width="0.80"/></g>
<g transform="translate(88.0 698.3) rotate(-20.2)"><rect x="-5.0" y="-2.0" width="10.0" height="4.0" rx="2.0" fill="#fff" stroke="#231f20" stroke-width="1.03"/><line x1="-4.2" y1="0.0" x2="4.2" y2="0.0" stroke="#231f20" stroke-width="0.80"/><line x1="0.0" y1="-2.0" x2="0.0" y2="2.0" stroke="#231f20" stroke-width="0.80"/></g>
<g transform="translate(110.3 690.1) rotate(-20.2)"><rect x="-5.0" y="-2.0" width="10.0" height="4.0" rx="2.0" fill="#fff" stroke="#231f20" stroke-width="1.03"/><line x1="-4.2" y1="0.0" x2="4.2" y2="0.0" stroke="#231f20" stroke-width="0.80"/><line x1="0.0" y1="-2.0" x2="0.0" y2="2.0" stroke="#231f20" stroke-width="0.80"/></g>
<g transform="translate(132.6 681.9) rotate(-20.2)"><rect x="-5.0" y="-2.0" width="10.0" height="4.0" rx="2.0" fill="#fff" stroke="#231f20" stroke-width="1.03"/><line x1="-4.2" y1="0.0" x2="4.2" y2="0.0" stroke="#231f20" stroke-width="0.80"/><line x1="0.0" y1="-2.0" x2="0.0" y2="2.0" stroke="#231f20" stroke-width="0.80"/></g>
<g transform="translate(154.9 673.7) rotate(-20.2)"><rect x="-5.0" y="-2.0" width="10.0" height="4.0" rx="2.0" fill="#fff" stroke="#231f20" stroke-width="1.03"/><line x1="-4.2" y1="0.0" x2="4.2" y2="0.0" stroke="#231f20" stroke-width="0.80"/><line x1="0.0" y1="-2.0" x2="0.0" y2="2.0" stroke="#231f20" stroke-width="0.80"/></g>
<g transform="translate(177.2 665.5) rotate(-20.2)"><rect x="-5.0" y="-2.0" width="10.0" height="4.0" rx="2.0" fill="#fff" stroke="#231f20" stroke-width="1.03"/><line x1="-4.2" y1="0.0" x2="4.2" y2="0.0" stroke="#231f20" stroke-width="0.80"/><line x1="0.0" y1="-2.0" x2="0.0" y2="2.0" stroke="#231f20" stroke-width="0.80"/></g>
<g transform="translate(199.5 657.3) rotate(-20.2)"><rect x="-5.0" y="-2.0" width="10.0" height="4.0" rx="2.0" fill="#fff" stroke="#231f20" stroke-width="1.03"/><line x1="-4.2" y1="0.0" x2="4.2" y2="0.0" stroke="#231f20" stroke-width="0.80"/><line x1="0.0" y1="-2.0" x2="0.0" y2="2.0" stroke="#231f20" stroke-width="0.80"/></g>
<g transform="translate(221.8 649.1) rotate(-20.2)"><rect x="-5.0" y="-2.0" width="10.0" height="4.0" rx="2.0" fill="#fff" stroke="#231f20" stroke-width="1.03"/><line x1="-4.2" y1="0.0" x2="4.2" y2="0.0" stroke="#231f20" stroke-width="0.80"/><line x1="0.0" y1="-2.0" x2="0.0" y2="2.0" stroke="#231f20" stroke-width="0.80"/></g>
<g transform="translate(244.1 640.9) rotate(-20.2)"><rect x="-5.0" y="-2.0" width="10.0" height="4.0" rx="2.0" fill="#fff" stroke="#231f20" stroke-width="1.03"/><line x1="-4.2" y1="0.0" x2="4.2" y2="0.0" stroke="#231f20" stroke-width="0.80"/><line x1="0.0" y1="-2.0" x2="0.0" y2="2.0" stroke="#231f20" stroke-width="0.80"/></g>
<g transform="translate(266.4 632.7) rotate(-20.2)"><rect x="-5.0" y="-2.0" width="10.0" height="4.0" rx="2.0" fill="#fff" stroke="#231f20" stroke-width="1.03"/><line x1="-4.2" y1="0.0" x2="4.2" y2="0.0" stroke="#231f20" stroke-width="0.80"/><line x1="0.0" y1="-2.0" x2="0.0" y2="2.0" stroke="#231f20" stroke-width="0.80"/></g>
<g transform="translate(288.7 624.5) rotate(-20.2)"><rect x="-5.0" y="-2.0" width="10.0" height="4.0" rx="2.0" fill="#fff" stroke="#231f20" stroke-width="1.03"/><line x1="-4.2" y1="0.0" x2="4.2" y2="0.0" stroke="#231f20" stroke-width="0.80"/><line x1="0.0" y1="-2.0" x2="0.0" y2="2.0" stroke="#231f20" stroke-width="0.80"/></g>
<g transform="translate(311.0 616.3) rotate(-20.2)"><rect x="-5.0" y="-2.0" width="10.0" height="4.0" rx="2.0" fill="#fff" stroke="#231f20" stroke-width="1.03"/><line x1="-4.2" y1="0.0" x2="4.2" y2="0.0" stroke="#231f20" stroke-width="0.80"/><line x1="0.0" y1="-2.0" x2="0.0" y2="2.0" stroke="#231f20" stroke-width="0.80"/></g>
<g transform="translate(333.3 608.1) rotate(-20.2)"><rect x="-5.0" y="-2.0" width="10.0" height="4.0" rx="2.0" fill="#fff" stroke="#231f20" stroke-width="1.03"/><line x1="-4.2" y1="0.0" x2="4.2" y2="0.0" stroke="#231f20" stroke-width="0.80"/><line x1="0.0" y1="-2.0" x2="0.0" y2="2.0" stroke="#231f20" stroke-width="0.80"/></g>
<polygon points="71.7,700.0 256.7,785.0 265.0,781.7 80.0,696.7" fill="#fff" stroke="#231f20" stroke-width="1.15" stroke-linejoin="round" />
<polygon points="71.7,700.0 256.7,785.0 256.7,800.0 71.7,715.0" fill="#fff" stroke="#231f20" stroke-width="1.15" stroke-linejoin="round" />
<polygon points="256.7,785.0 265.0,781.7 265.0,796.7 256.7,800.0" fill="#fff" stroke="#231f20" stroke-width="1.15" stroke-linejoin="round" />
<polygon points="71.7,700.0 80.0,696.7 80.0,711.0 71.7,715.0" fill="none" stroke="#231f20" stroke-width="0.92" stroke-linejoin="round" />
<ellipse cx="74.5" cy="703.5" rx="1.1" ry="1.1" fill="none" stroke="#231f20" stroke-width="0.92" />
<ellipse cx="74.5" cy="711.0" rx="1.1" ry="1.1" fill="none" stroke="#231f20" stroke-width="0.92" />
<ellipse cx="259.5" cy="789.0" rx="1.1" ry="1.1" fill="none" stroke="#231f20" stroke-width="0.92" />
<ellipse cx="259.5" cy="796.0" rx="1.1" ry="1.1" fill="none" stroke="#231f20" stroke-width="0.92" />
<text transform="translate(81.3 777.9) scale(1.0 1)" font-family="Liberation Sans" font-size="31.5" font-weight="bold" fill="#231f20" text-anchor="start">A6</text>
<text transform="translate(121.5 776.7) scale(1.0 1)" font-family="Liberation Sans" font-size="22.5" font-weight="normal" fill="#231f20" text-anchor="start">(2x)</text>
<text transform="translate(456.8 772.8) scale(1.0 1)" font-family="Liberation Sans" font-size="31.5" font-weight="bold" fill="#231f20" text-anchor="start">A4</text>
<text transform="translate(500.5 771.3) scale(1.0 1)" font-family="Liberation Sans" font-size="22.5" font-weight="normal" fill="#231f20" text-anchor="start">(2x)</text>
<polygon points="312.8,794.4 590.0,664.0 595.2,668.0 318.0,798.4" fill="#fff" stroke="#231f20" stroke-width="1.15" stroke-linejoin="round" />
<polygon points="312.8,794.4 590.0,664.0 590.0,664.0 312.8,794.4" fill="#fff" stroke="#231f20" stroke-width="1.15" stroke-linejoin="round" />
<polygon points="312.8,794.4 590.0,664.0 595.2,668.0 320.4,798.5" fill="#fff" stroke="#231f20" stroke-width="1.15" stroke-linejoin="round" />
<polygon points="320.4,798.5 595.2,668.0 595.2,676.8 320.4,813.6" fill="#fff" stroke="#231f20" stroke-width="1.15" stroke-linejoin="round" />
<polygon points="312.8,794.4 320.4,798.5 320.4,813.6 312.8,811.0" fill="#fff" stroke="#231f20" stroke-width="1.15" stroke-linejoin="round" />
<line x1="590.0" y1="664.0" x2="595.2" y2="668.0" stroke="#231f20" stroke-width="1.15" />
<ellipse cx="316.5" cy="802.0" rx="1.1" ry="1.1" fill="none" stroke="#231f20" stroke-width="0.92" />
<ellipse cx="316.5" cy="808.0" rx="1.1" ry="1.1" fill="none" stroke="#231f20" stroke-width="0.92" />
<g transform="translate(325.6 791.5) rotate(-25)"><rect x="-6.5" y="-2.6" width="13" height="5.2" rx="2.6" fill="#fff" stroke="#231f20" stroke-width="1.15"/><line x1="-5" y1="0.8" x2="5" y2="0.8" stroke="#231f20" stroke-width="0.69"/></g>
<g transform="translate(349.2 780.2) rotate(-25)"><rect x="-6.5" y="-2.6" width="13" height="5.2" rx="2.6" fill="#fff" stroke="#231f20" stroke-width="1.15"/><line x1="-5" y1="0.8" x2="5" y2="0.8" stroke="#231f20" stroke-width="0.69"/></g>
<g transform="translate(372.8 768.9) rotate(-25)"><rect x="-6.5" y="-2.6" width="13" height="5.2" rx="2.6" fill="#fff" stroke="#231f20" stroke-width="1.15"/><line x1="-5" y1="0.8" x2="5" y2="0.8" stroke="#231f20" stroke-width="0.69"/></g>
<g transform="translate(396.3 757.5) rotate(-25)"><rect x="-6.5" y="-2.6" width="13" height="5.2" rx="2.6" fill="#fff" stroke="#231f20" stroke-width="1.15"/><line x1="-5" y1="0.8" x2="5" y2="0.8" stroke="#231f20" stroke-width="0.69"/></g>
<g transform="translate(419.9 746.2) rotate(-25)"><rect x="-6.5" y="-2.6" width="13" height="5.2" rx="2.6" fill="#fff" stroke="#231f20" stroke-width="1.15"/><line x1="-5" y1="0.8" x2="5" y2="0.8" stroke="#231f20" stroke-width="0.69"/></g>
<g transform="translate(443.5 734.9) rotate(-25)"><rect x="-6.5" y="-2.6" width="13" height="5.2" rx="2.6" fill="#fff" stroke="#231f20" stroke-width="1.15"/><line x1="-5" y1="0.8" x2="5" y2="0.8" stroke="#231f20" stroke-width="0.69"/></g>
<g transform="translate(467.1 723.6) rotate(-25)"><rect x="-6.5" y="-2.6" width="13" height="5.2" rx="2.6" fill="#fff" stroke="#231f20" stroke-width="1.15"/><line x1="-5" y1="0.8" x2="5" y2="0.8" stroke="#231f20" stroke-width="0.69"/></g>
<g transform="translate(490.7 712.3) rotate(-25)"><rect x="-6.5" y="-2.6" width="13" height="5.2" rx="2.6" fill="#fff" stroke="#231f20" stroke-width="1.15"/><line x1="-5" y1="0.8" x2="5" y2="0.8" stroke="#231f20" stroke-width="0.69"/></g>
<g transform="translate(514.3 701.0) rotate(-25)"><rect x="-6.5" y="-2.6" width="13" height="5.2" rx="2.6" fill="#fff" stroke="#231f20" stroke-width="1.15"/><line x1="-5" y1="0.8" x2="5" y2="0.8" stroke="#231f20" stroke-width="0.69"/></g>
<g transform="translate(537.8 689.6) rotate(-25)"><rect x="-6.5" y="-2.6" width="13" height="5.2" rx="2.6" fill="#fff" stroke="#231f20" stroke-width="1.15"/><line x1="-5" y1="0.8" x2="5" y2="0.8" stroke="#231f20" stroke-width="0.69"/></g>
<g transform="translate(561.4 678.3) rotate(-25)"><rect x="-6.5" y="-2.6" width="13" height="5.2" rx="2.6" fill="#fff" stroke="#231f20" stroke-width="1.15"/><line x1="-5" y1="0.8" x2="5" y2="0.8" stroke="#231f20" stroke-width="0.69"/></g>
<g transform="translate(585.0 667.0) rotate(-25)"><rect x="-6.5" y="-2.6" width="13" height="5.2" rx="2.6" fill="#fff" stroke="#231f20" stroke-width="1.15"/><line x1="-5" y1="0.8" x2="5" y2="0.8" stroke="#231f20" stroke-width="0.69"/></g>
<ellipse cx="408.1" cy="765.0" rx="1.0" ry="1.0" fill="none" stroke="#231f20" stroke-width="0.92" />
<ellipse cx="415.0" cy="761.9" rx="1.0" ry="1.0" fill="none" stroke="#231f20" stroke-width="0.92" />
<ellipse cx="502.5" cy="717.5" rx="1.0" ry="1.0" fill="none" stroke="#231f20" stroke-width="0.92" />
<ellipse cx="509.4" cy="714.4" rx="1.0" ry="1.0" fill="none" stroke="#231f20" stroke-width="0.92" />
<line x1="366.0" y1="743.0" x2="410.0" y2="756.0" stroke="#231f20" stroke-width="0.92" stroke-dasharray="3.5 3"/>
<line x1="366.0" y1="748.0" x2="405.0" y2="760.0" stroke="#231f20" stroke-width="0.92" stroke-dasharray="3.5 3"/>
<line x1="463.0" y1="702.0" x2="505.0" y2="713.0" stroke="#231f20" stroke-width="0.92" stroke-dasharray="3.5 3"/>
<line x1="463.0" y1="707.0" x2="500.0" y2="717.0" stroke="#231f20" stroke-width="0.92" stroke-dasharray="3.5 3"/>
<path d="M346.5 774.5 L325 766.5 L325.5 763.5 L314 762.5 L322.5 771 L323.5 768.5 L345 776.5 Z" fill="#231f20" stroke="#231f20" stroke-width="1.38" stroke-linejoin="round" />
<path d="M536 685 L515 676.5 L516 673.5 L504.5 673 L513 681 L514 678.5 L535 687 Z" fill="#231f20" stroke="#231f20" stroke-width="1.38" stroke-linejoin="round" />
<ellipse cx="853.2" cy="127.9" rx="93.3" ry="93.5" fill="none" stroke="#231f20" stroke-width="1.26" />
<line x1="786.7" y1="69.0" x2="875.3" y2="41.5" stroke="#231f20" stroke-width="1.26" />
<line x1="775.0" y1="86.5" x2="892.8" y2="47.5" stroke="#231f20" stroke-width="1.26" />
<text transform="translate(895.5 60.8) scale(1.15 1)" font-family="Liberation Sans" font-size="25" font-weight="bold" fill="#231f20" stroke="#231f20" stroke-width="1.40" text-anchor="start">2x</text>
<line x1="849.7" y1="72.5" x2="849.7" y2="96.0" stroke="#231f20" stroke-width="1.03" stroke-dasharray="2 2"/>
<path d="M822 106 C824 98 870 96 873 106" fill="none" stroke="#231f20" stroke-width="2.60" stroke-linejoin="round" />
<path d="M822 106 C821 111 830 114 838 113" fill="none" stroke="#231f20" stroke-width="1.15" stroke-linejoin="round" />
<path d="M836 110 L841 113 L836 116" fill="none" stroke="#231f20" stroke-width="1.15" stroke-linejoin="round" />
<path d="M873 106 C873 110 870 112 866 113" fill="none" stroke="#231f20" stroke-width="1.15" stroke-linejoin="round" />
<rect x="844" y="110" width="9.2" height="26" fill="#888" stroke="#231f20" stroke-width="0.92"/>
<line x1="844.3" y1="112.0" x2="852.9" y2="113.0" stroke="#333" stroke-width="0.57" />
<line x1="844.3" y1="113.9" x2="852.9" y2="114.9" stroke="#333" stroke-width="0.57" />
<line x1="844.3" y1="115.8" x2="852.9" y2="116.8" stroke="#333" stroke-width="0.57" />
<line x1="844.3" y1="117.7" x2="852.9" y2="118.7" stroke="#333" stroke-width="0.57" />
<line x1="844.3" y1="119.6" x2="852.9" y2="120.6" stroke="#333" stroke-width="0.57" />
<line x1="844.3" y1="121.5" x2="852.9" y2="122.5" stroke="#333" stroke-width="0.57" />
<line x1="844.3" y1="123.4" x2="852.9" y2="124.4" stroke="#333" stroke-width="0.57" />
<line x1="844.3" y1="125.3" x2="852.9" y2="126.3" stroke="#333" stroke-width="0.57" />
<line x1="844.3" y1="127.2" x2="852.9" y2="128.2" stroke="#333" stroke-width="0.57" />
<line x1="844.3" y1="129.1" x2="852.9" y2="130.1" stroke="#333" stroke-width="0.57" />
<line x1="844.3" y1="131.0" x2="852.9" y2="132.0" stroke="#333" stroke-width="0.57" />
<line x1="844.3" y1="132.9" x2="852.9" y2="133.9" stroke="#333" stroke-width="0.57" />
<line x1="844.3" y1="134.8" x2="852.9" y2="135.8" stroke="#333" stroke-width="0.57" />
<ellipse cx="848.6" cy="110.2" rx="4.6" ry="1.6" fill="#ccc" stroke="#231f20" stroke-width="0.92" />
<polygon points="833.3,135.5 849.7,128.5 863.7,135.5 849.7,142.5" fill="#fff" stroke="#555" stroke-width="0.92" stroke-linejoin="round" />
<polyline points="833.3,135.5 833.3,206.7 849.7,214.8 863.7,206.7 863.7,135.5" fill="none" stroke="#555" stroke-width="0.92" stroke-linejoin="round" />
<line x1="849.7" y1="142.5" x2="849.7" y2="214.8" stroke="#555" stroke-width="0.92" />
<text transform="translate(883.0 100.5) scale(1.0 1)" font-family="Liberation Sans" font-size="20" font-weight="bold" fill="#231f20" text-anchor="start">Φ13</text>
<line x1="895.2" y1="105.2" x2="869.0" y2="123.0" stroke="#231f20" stroke-width="0.69" />
<path d="M866 125 L870 118.5 L873 123.5 Z" fill="#231f20" stroke="#231f20" stroke-width="0.57" stroke-linejoin="round" />
<polygon points="945.1,143.5 946.3,143.5 947.5,143.7 948.8,143.9 950.1,144.2 951.4,144.5 952.8,145.0 954.1,145.5 955.5,146.1 956.9,146.7 958.3,147.4 959.7,148.2 961.2,149.0 962.7,149.9 964.1,150.9 965.6,151.9 967.1,153.0 968.6,154.2 970.1,155.4 971.6,156.7 973.1,158.1 974.7,159.5 976.2,161.0 977.7,162.5 979.2,164.2 980.8,165.8 982.3,167.6 983.8,169.4 985.4,171.2 986.9,173.1 988.4,175.1 989.9,177.1 991.4,179.2 992.9,181.4 994.4,183.6 995.9,185.9 997.4,188.2 998.8,190.6 1000.3,193.1 1001.8,195.6 1003.2,198.2 1003.8,197.8 1002.5,195.2 1001.1,192.6 999.7,190.1 998.3,187.7 996.9,185.3 995.5,182.9 994.1,180.6 992.7,178.4 991.2,176.2 989.8,174.1 988.3,172.0 986.9,170.0 985.4,168.1 984.0,166.2 982.5,164.3 981.0,162.6 979.6,160.8 978.1,159.2 976.6,157.6 975.1,156.0 973.6,154.6 972.2,153.1 970.7,151.8 969.2,150.4 967.7,149.2 966.2,148.0 964.8,146.9 963.3,145.8 961.8,144.8 960.4,143.8 958.9,142.9 957.5,142.1 956.0,141.3 954.6,140.6 953.1,140.0 951.7,139.4 950.2,138.8 948.8,138.4 947.4,137.9 945.9,137.5" fill="#231f20" stroke="none"/>
<polygon points="764.7,286.0 1033.3,188.3 1238.7,229.9 960.2,365.0 951.6,369.2" fill="#fff" stroke="#231f20" stroke-width="1.15" stroke-linejoin="round" />
<polygon points="764.7,286.0 764.7,298.3 951.6,385.0 951.6,369.2" fill="#fff" stroke="#231f20" stroke-width="1.15" stroke-linejoin="round" />
<polygon points="951.6,369.2 951.6,385.0 960.2,381.5 960.2,365.0" fill="#fff" stroke="#231f20" stroke-width="1.15" stroke-linejoin="round" />
<polygon points="960.2,365.0 960.2,381.5 1238.7,242.1 1238.7,229.9" fill="#fff" stroke="#231f20" stroke-width="1.15" stroke-linejoin="round" />
<polyline points="776.0,287.0 1030.0,194.0 1229.0,234.8 960.0,360.7 776.0,287.0" fill="none" stroke="#231f20" stroke-width="1.03" stroke-linejoin="round" />
<path d="M1023 194 C1060 193 1090 199 1110 206 S1180 222 1226 232" fill="none" stroke="#231f20" stroke-width="1.03" stroke-linejoin="round" />
<path d="M1037 200 C1070 201 1095 207 1114 213 S1170 227 1208 239" fill="none" stroke="#231f20" stroke-width="1.03" stroke-linejoin="round" />
<line x1="1030.6" y1="192.8" x2="1030.6" y2="199.4" stroke="#231f20" stroke-width="0.92" />
<line x1="1037.0" y1="192.8" x2="1037.0" y2="200.3" stroke="#231f20" stroke-width="0.92" />
<line x1="1117.8" y1="211.6" x2="1117.8" y2="219.0" stroke="#231f20" stroke-width="0.92" />
<rect x="945.5" y="286" width="9.8" height="28" fill="#fff" stroke="#231f20" stroke-width="1.03"/>
<line x1="950.4" y1="286.0" x2="950.4" y2="314.0" stroke="#231f20" stroke-width="0.80" />
<rect x="1033.3" y="254" width="8.7" height="26" fill="#fff" stroke="#231f20" stroke-width="1.03"/>
<line x1="790.0" y1="296.0" x2="1025.0" y2="209.0" stroke="#231f20" stroke-width="1.03" />
<line x1="852.0" y1="317.0" x2="1105.0" y2="219.0" stroke="#231f20" stroke-width="1.03" />
<line x1="826.0" y1="303.0" x2="1080.0" y2="205.0" stroke="#231f20" stroke-width="1.03" />
<polygon points="836.0,312.0 1110.0,204.0 1114.0,207.0 840.0,315.5" fill="#fff" stroke="#231f20" stroke-width="0.92" stroke-linejoin="round" />
<path d="M780.5 283.6 Q820.0 281.1 840.4 309.3 Q902.0 318.6 963.7 355.8 L957.7 359.3 Q899.0 327.1 837.9 314.3 Q818.0 288.6 779.5 287.1 Z" fill="#fff" stroke="#231f20" stroke-width="1.03" stroke-linejoin="round"/>
<path d="M802.7 275.3 Q843.7 272.8 864.8 299.9 Q926.0 308.9 987.3 344.7 L981.3 348.2 Q923.0 317.4 862.3 304.9 Q841.7 280.3 801.7 278.8 Z" fill="#fff" stroke="#231f20" stroke-width="1.03" stroke-linejoin="round"/>
<path d="M824.9 267.0 Q867.3 264.5 889.2 290.6 Q950.0 299.2 1010.9 333.6 L1004.9 337.1 Q947.0 307.7 886.7 295.6 Q865.3 272.0 823.9 270.5 Z" fill="#fff" stroke="#231f20" stroke-width="1.03" stroke-linejoin="round"/>
<path d="M847.1 258.7 Q891.0 256.2 913.6 281.2 Q974.0 289.5 1034.5 322.5 L1028.5 326.0 Q971.0 298.0 911.1 286.2 Q889.0 263.7 846.1 262.2 Z" fill="#fff" stroke="#231f20" stroke-width="1.03" stroke-linejoin="round"/>
<path d="M869.3 250.4 Q914.6 247.9 938.0 271.9 Q998.1 279.8 1058.1 311.4 L1052.1 314.9 Q995.1 288.3 935.5 276.9 Q912.6 255.4 868.3 253.9 Z" fill="#fff" stroke="#231f20" stroke-width="1.03" stroke-linejoin="round"/>
<path d="M891.5 242.1 Q938.3 239.6 962.4 262.6 Q1022.0 270.1 1081.7 300.3 L1075.7 303.8 Q1019.0 278.6 959.9 267.6 Q936.3 247.1 890.5 245.6 Z" fill="#fff" stroke="#231f20" stroke-width="1.03" stroke-linejoin="round"/>
<path d="M913.7 233.8 Q961.9 231.3 986.8 253.2 Q1046.1 260.4 1105.3 289.2 L1099.3 292.7 Q1043.1 268.9 984.3 258.2 Q959.9 238.8 912.7 237.3 Z" fill="#fff" stroke="#231f20" stroke-width="1.03" stroke-linejoin="round"/>
<path d="M935.9 225.5 Q985.6 223.0 1011.2 243.9 Q1070.0 250.7 1128.9 278.1 L1122.9 281.6 Q1067.0 259.2 1008.7 248.9 Q983.6 230.5 934.9 229.0 Z" fill="#fff" stroke="#231f20" stroke-width="1.03" stroke-linejoin="round"/>
<path d="M958.1 217.2 Q1009.2 214.7 1035.6 234.5 Q1094.0 241.0 1152.5 267.0 L1146.5 270.5 Q1091.0 249.5 1033.1 239.5 Q1007.2 222.2 957.1 220.7 Z" fill="#fff" stroke="#231f20" stroke-width="1.03" stroke-linejoin="round"/>
<path d="M980.3 208.9 Q1032.9 206.4 1060.0 225.2 Q1118.1 231.3 1176.1 255.9 L1170.1 259.4 Q1115.1 239.8 1057.5 230.2 Q1030.9 213.9 979.3 212.4 Z" fill="#fff" stroke="#231f20" stroke-width="1.03" stroke-linejoin="round"/>
<path d="M1002.5 200.6 Q1056.6 198.1 1084.4 215.8 Q1142.1 221.6 1199.7 244.8 L1193.7 248.3 Q1139.1 230.1 1081.9 220.8 Q1054.6 205.6 1001.5 204.1 Z" fill="#fff" stroke="#231f20" stroke-width="1.03" stroke-linejoin="round"/>
<g transform="translate(840.4 309.3) rotate(-21.0)"><rect x="-7.5" y="-3.0" width="15.0" height="6.0" rx="2.2" fill="#fff" stroke="#231f20" stroke-width="1.03"/><line x1="-6.7" y1="-1.0" x2="6.7" y2="-1.0" stroke="#231f20" stroke-width="0.80"/><line x1="-6.7" y1="1.0" x2="6.7" y2="1.0" stroke="#231f20" stroke-width="0.80"/><line x1="-2.5" y1="-3.0" x2="-2.5" y2="3.0" stroke="#231f20" stroke-width="0.80"/><line x1="2.5" y1="-3.0" x2="2.5" y2="3.0" stroke="#231f20" stroke-width="0.80"/></g>
<g transform="translate(864.8 299.9) rotate(-21.0)"><rect x="-7.5" y="-3.0" width="15.0" height="6.0" rx="2.2" fill="#fff" stroke="#231f20" stroke-width="1.03"/><line x1="-6.7" y1="-1.0" x2="6.7" y2="-1.0" stroke="#231f20" stroke-width="0.80"/><line x1="-6.7" y1="1.0" x2="6.7" y2="1.0" stroke="#231f20" stroke-width="0.80"/><line x1="-2.5" y1="-3.0" x2="-2.5" y2="3.0" stroke="#231f20" stroke-width="0.80"/><line x1="2.5" y1="-3.0" x2="2.5" y2="3.0" stroke="#231f20" stroke-width="0.80"/></g>
<g transform="translate(889.2 290.6) rotate(-21.0)"><rect x="-7.5" y="-3.0" width="15.0" height="6.0" rx="2.2" fill="#fff" stroke="#231f20" stroke-width="1.03"/><line x1="-6.7" y1="-1.0" x2="6.7" y2="-1.0" stroke="#231f20" stroke-width="0.80"/><line x1="-6.7" y1="1.0" x2="6.7" y2="1.0" stroke="#231f20" stroke-width="0.80"/><line x1="-2.5" y1="-3.0" x2="-2.5" y2="3.0" stroke="#231f20" stroke-width="0.80"/><line x1="2.5" y1="-3.0" x2="2.5" y2="3.0" stroke="#231f20" stroke-width="0.80"/></g>
<g transform="translate(913.6 281.2) rotate(-21.0)"><rect x="-7.5" y="-3.0" width="15.0" height="6.0" rx="2.2" fill="#fff" stroke="#231f20" stroke-width="1.03"/><line x1="-6.7" y1="-1.0" x2="6.7" y2="-1.0" stroke="#231f20" stroke-width="0.80"/><line x1="-6.7" y1="1.0" x2="6.7" y2="1.0" stroke="#231f20" stroke-width="0.80"/><line x1="-2.5" y1="-3.0" x2="-2.5" y2="3.0" stroke="#231f20" stroke-width="0.80"/><line x1="2.5" y1="-3.0" x2="2.5" y2="3.0" stroke="#231f20" stroke-width="0.80"/></g>
<g transform="translate(938.0 271.9) rotate(-21.0)"><rect x="-7.5" y="-3.0" width="15.0" height="6.0" rx="2.2" fill="#fff" stroke="#231f20" stroke-width="1.03"/><line x1="-6.7" y1="-1.0" x2="6.7" y2="-1.0" stroke="#231f20" stroke-width="0.80"/><line x1="-6.7" y1="1.0" x2="6.7" y2="1.0" stroke="#231f20" stroke-width="0.80"/><line x1="-2.5" y1="-3.0" x2="-2.5" y2="3.0" stroke="#231f20" stroke-width="0.80"/><line x1="2.5" y1="-3.0" x2="2.5" y2="3.0" stroke="#231f20" stroke-width="0.80"/></g>
<g transform="translate(962.4 262.6) rotate(-21.0)"><rect x="-7.5" y="-3.0" width="15.0" height="6.0" rx="2.2" fill="#fff" stroke="#231f20" stroke-width="1.03"/><line x1="-6.7" y1="-1.0" x2="6.7" y2="-1.0" stroke="#231f20" stroke-width="0.80"/><line x1="-6.7" y1="1.0" x2="6.7" y2="1.0" stroke="#231f20" stroke-width="0.80"/><line x1="-2.5" y1="-3.0" x2="-2.5" y2="3.0" stroke="#231f20" stroke-width="0.80"/><line x1="2.5" y1="-3.0" x2="2.5" y2="3.0" stroke="#231f20" stroke-width="0.80"/></g>
<g transform="translate(986.8 253.2) rotate(-21.0)"><rect x="-7.5" y="-3.0" width="15.0" height="6.0" rx="2.2" fill="#fff" stroke="#231f20" stroke-width="1.03"/><line x1="-6.7" y1="-1.0" x2="6.7" y2="-1.0" stroke="#231f20" stroke-width="0.80"/><line x1="-6.7" y1="1.0" x2="6.7" y2="1.0" stroke="#231f20" stroke-width="0.80"/><line x1="-2.5" y1="-3.0" x2="-2.5" y2="3.0" stroke="#231f20" stroke-width="0.80"/><line x1="2.5" y1="-3.0" x2="2.5" y2="3.0" stroke="#231f20" stroke-width="0.80"/></g>
<g transform="translate(1011.2 243.9) rotate(-21.0)"><rect x="-7.5" y="-3.0" width="15.0" height="6.0" rx="2.2" fill="#fff" stroke="#231f20" stroke-width="1.03"/><line x1="-6.7" y1="-1.0" x2="6.7" y2="-1.0" stroke="#231f20" stroke-width="0.80"/><line x1="-6.7" y1="1.0" x2="6.7" y2="1.0" stroke="#231f20" stroke-width="0.80"/><line x1="-2.5" y1="-3.0" x2="-2.5" y2="3.0" stroke="#231f20" stroke-width="0.80"/><line x1="2.5" y1="-3.0" x2="2.5" y2="3.0" stroke="#231f20" stroke-width="0.80"/></g>
<g transform="translate(1035.6 234.5) rotate(-21.0)"><rect x="-7.5" y="-3.0" width="15.0" height="6.0" rx="2.2" fill="#fff" stroke="#231f20" stroke-width="1.03"/><line x1="-6.7" y1="-1.0" x2="6.7" y2="-1.0" stroke="#231f20" stroke-width="0.80"/><line x1="-6.7" y1="1.0" x2="6.7" y2="1.0" stroke="#231f20" stroke-width="0.80"/><line x1="-2.5" y1="-3.0" x2="-2.5" y2="3.0" stroke="#231f20" stroke-width="0.80"/><line x1="2.5" y1="-3.0" x2="2.5" y2="3.0" stroke="#231f20" stroke-width="0.80"/></g>
<g transform="translate(1060.0 225.2) rotate(-21.0)"><rect x="-7.5" y="-3.0" width="15.0" height="6.0" rx="2.2" fill="#fff" stroke="#231f20" stroke-width="1.03"/><line x1="-6.7" y1="-1.0" x2="6.7" y2="-1.0" stroke="#231f20" stroke-width="0.80"/><line x1="-6.7" y1="1.0" x2="6.7" y2="1.0" stroke="#231f20" stroke-width="0.80"/><line x1="-2.5" y1="-3.0" x2="-2.5" y2="3.0" stroke="#231f20" stroke-width="0.80"/><line x1="2.5" y1="-3.0" x2="2.5" y2="3.0" stroke="#231f20" stroke-width="0.80"/></g>
<g transform="translate(1084.4 215.8) rotate(-21.0)"><rect x="-7.5" y="-3.0" width="15.0" height="6.0" rx="2.2" fill="#fff" stroke="#231f20" stroke-width="1.03"/><line x1="-6.7" y1="-1.0" x2="6.7" y2="-1.0" stroke="#231f20" stroke-width="0.80"/><line x1="-6.7" y1="1.0" x2="6.7" y2="1.0" stroke="#231f20" stroke-width="0.80"/><line x1="-2.5" y1="-3.0" x2="-2.5" y2="3.0" stroke="#231f20" stroke-width="0.80"/><line x1="2.5" y1="-3.0" x2="2.5" y2="3.0" stroke="#231f20" stroke-width="0.80"/></g>
<g transform="translate(1108.8 206.5) rotate(-21.0)"><rect x="-7.5" y="-3.0" width="15.0" height="6.0" rx="2.2" fill="#fff" stroke="#231f20" stroke-width="1.03"/><line x1="-6.7" y1="-1.0" x2="6.7" y2="-1.0" stroke="#231f20" stroke-width="0.80"/><line x1="-6.7" y1="1.0" x2="6.7" y2="1.0" stroke="#231f20" stroke-width="0.80"/><line x1="-2.5" y1="-3.0" x2="-2.5" y2="3.0" stroke="#231f20" stroke-width="0.80"/><line x1="2.5" y1="-3.0" x2="2.5" y2="3.0" stroke="#231f20" stroke-width="0.80"/></g>
<g transform="translate(780.5 283.6) rotate(-20.0)"><rect x="-5.0" y="-2.2" width="10.0" height="4.5" rx="2.2" fill="#fff" stroke="#231f20" stroke-width="1.03"/><line x1="-4.2" y1="0.0" x2="4.2" y2="0.0" stroke="#231f20" stroke-width="0.80"/><line x1="0.0" y1="-2.2" x2="0.0" y2="2.2" stroke="#231f20" stroke-width="0.80"/></g>
<g transform="translate(802.7 275.3) rotate(-20.0)"><rect x="-5.0" y="-2.2" width="10.0" height="4.5" rx="2.2" fill="#fff" stroke="#231f20" stroke-width="1.03"/><line x1="-4.2" y1="0.0" x2="4.2" y2="0.0" stroke="#231f20" stroke-width="0.80"/><line x1="0.0" y1="-2.2" x2="0.0" y2="2.2" stroke="#231f20" stroke-width="0.80"/></g>
<g transform="translate(824.9 267.0) rotate(-20.0)"><rect x="-5.0" y="-2.2" width="10.0" height="4.5" rx="2.2" fill="#fff" stroke="#231f20" stroke-width="1.03"/><line x1="-4.2" y1="0.0" x2="4.2" y2="0.0" stroke="#231f20" stroke-width="0.80"/><line x1="0.0" y1="-2.2" x2="0.0" y2="2.2" stroke="#231f20" stroke-width="0.80"/></g>
<g transform="translate(847.1 258.7) rotate(-20.0)"><rect x="-5.0" y="-2.2" width="10.0" height="4.5" rx="2.2" fill="#fff" stroke="#231f20" stroke-width="1.03"/><line x1="-4.2" y1="0.0" x2="4.2" y2="0.0" stroke="#231f20" stroke-width="0.80"/><line x1="0.0" y1="-2.2" x2="0.0" y2="2.2" stroke="#231f20" stroke-width="0.80"/></g>
<g transform="translate(869.3 250.4) rotate(-20.0)"><rect x="-5.0" y="-2.2" width="10.0" height="4.5" rx="2.2" fill="#fff" stroke="#231f20" stroke-width="1.03"/><line x1="-4.2" y1="0.0" x2="4.2" y2="0.0" stroke="#231f20" stroke-width="0.80"/><line x1="0.0" y1="-2.2" x2="0.0" y2="2.2" stroke="#231f20" stroke-width="0.80"/></g>
<g transform="translate(891.5 242.1) rotate(-20.0)"><rect x="-5.0" y="-2.2" width="10.0" height="4.5" rx="2.2" fill="#fff" stroke="#231f20" stroke-width="1.03"/><line x1="-4.2" y1="0.0" x2="4.2" y2="0.0" stroke="#231f20" stroke-width="0.80"/><line x1="0.0" y1="-2.2" x2="0.0" y2="2.2" stroke="#231f20" stroke-width="0.80"/></g>
<g transform="translate(913.7 233.8) rotate(-20.0)"><rect x="-5.0" y="-2.2" width="10.0" height="4.5" rx="2.2" fill="#fff" stroke="#231f20" stroke-width="1.03"/><line x1="-4.2" y1="0.0" x2="4.2" y2="0.0" stroke="#231f20" stroke-width="0.80"/><line x1="0.0" y1="-2.2" x2="0.0" y2="2.2" stroke="#231f20" stroke-width="0.80"/></g>
<g transform="translate(935.9 225.5) rotate(-20.0)"><rect x="-5.0" y="-2.2" width="10.0" height="4.5" rx="2.2" fill="#fff" stroke="#231f20" stroke-width="1.03"/><line x1="-4.2" y1="0.0" x2="4.2" y2="0.0" stroke="#231f20" stroke-width="0.80"/><line x1="0.0" y1="-2.2" x2="0.0" y2="2.2" stroke="#231f20" stroke-width="0.80"/></g>
<g transform="translate(958.1 217.2) rotate(-20.0)"><rect x="-5.0" y="-2.2" width="10.0" height="4.5" rx="2.2" fill="#fff" stroke="#231f20" stroke-width="1.03"/><line x1="-4.2" y1="0.0" x2="4.2" y2="0.0" stroke="#231f20" stroke-width="0.80"/><line x1="0.0" y1="-2.2" x2="0.0" y2="2.2" stroke="#231f20" stroke-width="0.80"/></g>
<g transform="translate(980.3 208.9) rotate(-20.0)"><rect x="-5.0" y="-2.2" width="10.0" height="4.5" rx="2.2" fill="#fff" stroke="#231f20" stroke-width="1.03"/><line x1="-4.2" y1="0.0" x2="4.2" y2="0.0" stroke="#231f20" stroke-width="0.80"/><line x1="0.0" y1="-2.2" x2="0.0" y2="2.2" stroke="#231f20" stroke-width="0.80"/></g>
<g transform="translate(1002.5 200.6) rotate(-20.0)"><rect x="-5.0" y="-2.2" width="10.0" height="4.5" rx="2.2" fill="#fff" stroke="#231f20" stroke-width="1.03"/><line x1="-4.2" y1="0.0" x2="4.2" y2="0.0" stroke="#231f20" stroke-width="0.80"/><line x1="0.0" y1="-2.2" x2="0.0" y2="2.2" stroke="#231f20" stroke-width="0.80"/></g>
<g transform="translate(962.7 355.8) rotate(-25.0)"><rect x="-6.5" y="-2.5" width="13.0" height="5.0" rx="2.2" fill="#fff" stroke="#231f20" stroke-width="1.03"/><line x1="-5.7" y1="0.0" x2="5.7" y2="0.0" stroke="#231f20" stroke-width="0.80"/><line x1="0.0" y1="-2.5" x2="0.0" y2="2.5" stroke="#231f20" stroke-width="0.80"/></g>
<g transform="translate(986.3 344.7) rotate(-25.0)"><rect x="-6.5" y="-2.5" width="13.0" height="5.0" rx="2.2" fill="#fff" stroke="#231f20" stroke-width="1.03"/><line x1="-5.7" y1="0.0" x2="5.7" y2="0.0" stroke="#231f20" stroke-width="0.80"/><line x1="0.0" y1="-2.5" x2="0.0" y2="2.5" stroke="#231f20" stroke-width="0.80"/></g>
<g transform="translate(1009.9 333.6) rotate(-25.0)"><rect x="-6.5" y="-2.5" width="13.0" height="5.0" rx="2.2" fill="#fff" stroke="#231f20" stroke-width="1.03"/><line x1="-5.7" y1="0.0" x2="5.7" y2="0.0" stroke="#231f20" stroke-width="0.80"/><line x1="0.0" y1="-2.5" x2="0.0" y2="2.5" stroke="#231f20" stroke-width="0.80"/></g>
<g transform="translate(1033.5 322.5) rotate(-25.0)"><rect x="-6.5" y="-2.5" width="13.0" height="5.0" rx="2.2" fill="#fff" stroke="#231f20" stroke-width="1.03"/><line x1="-5.7" y1="0.0" x2="5.7" y2="0.0" stroke="#231f20" stroke-width="0.80"/><line x1="0.0" y1="-2.5" x2="0.0" y2="2.5" stroke="#231f20" stroke-width="0.80"/></g>
<g transform="translate(1057.1 311.4) rotate(-25.0)"><rect x="-6.5" y="-2.5" width="13.0" height="5.0" rx="2.2" fill="#fff" stroke="#231f20" stroke-width="1.03"/><line x1="-5.7" y1="0.0" x2="5.7" y2="0.0" stroke="#231f20" stroke-width="0.80"/><line x1="0.0" y1="-2.5" x2="0.0" y2="2.5" stroke="#231f20" stroke-width="0.80"/></g>
<g transform="translate(1080.7 300.3) rotate(-25.0)"><rect x="-6.5" y="-2.5" width="13.0" height="5.0" rx="2.2" fill="#fff" stroke="#231f20" stroke-width="1.03"/><line x1="-5.7" y1="0.0" x2="5.7" y2="0.0" stroke="#231f20" stroke-width="0.80"/><line x1="0.0" y1="-2.5" x2="0.0" y2="2.5" stroke="#231f20" stroke-width="0.80"/></g>
<g transform="translate(1104.3 289.2) rotate(-25.0)"><rect x="-6.5" y="-2.5" width="13.0" height="5.0" rx="2.2" fill="#fff" stroke="#231f20" stroke-width="1.03"/><line x1="-5.7" y1="0.0" x2="5.7" y2="0.0" stroke="#231f20" stroke-width="0.80"/><line x1="0.0" y1="-2.5" x2="0.0" y2="2.5" stroke="#231f20" stroke-width="0.80"/></g>
<g transform="translate(1127.9 278.1) rotate(-25.0)"><rect x="-6.5" y="-2.5" width="13.0" height="5.0" rx="2.2" fill="#fff" stroke="#231f20" stroke-width="1.03"/><line x1="-5.7" y1="0.0" x2="5.7" y2="0.0" stroke="#231f20" stroke-width="0.80"/><line x1="0.0" y1="-2.5" x2="0.0" y2="2.5" stroke="#231f20" stroke-width="0.80"/></g>
<g transform="translate(1151.5 267.0) rotate(-25.0)"><rect x="-6.5" y="-2.5" width="13.0" height="5.0" rx="2.2" fill="#fff" stroke="#231f20" stroke-width="1.03"/><line x1="-5.7" y1="0.0" x2="5.7" y2="0.0" stroke="#231f20" stroke-width="0.80"/><line x1="0.0" y1="-2.5" x2="0.0" y2="2.5" stroke="#231f20" stroke-width="0.80"/></g>
<g transform="translate(1175.1 255.9) rotate(-25.0)"><rect x="-6.5" y="-2.5" width="13.0" height="5.0" rx="2.2" fill="#fff" stroke="#231f20" stroke-width="1.03"/><line x1="-5.7" y1="0.0" x2="5.7" y2="0.0" stroke="#231f20" stroke-width="0.80"/><line x1="0.0" y1="-2.5" x2="0.0" y2="2.5" stroke="#231f20" stroke-width="0.80"/></g>
<g transform="translate(1198.7 244.8) rotate(-25.0)"><rect x="-6.5" y="-2.5" width="13.0" height="5.0" rx="2.2" fill="#fff" stroke="#231f20" stroke-width="1.03"/><line x1="-5.7" y1="0.0" x2="5.7" y2="0.0" stroke="#231f20" stroke-width="0.80"/><line x1="0.0" y1="-2.5" x2="0.0" y2="2.5" stroke="#231f20" stroke-width="0.80"/></g>
<g transform="translate(1222.3 233.7) rotate(-25.0)"><rect x="-6.5" y="-2.5" width="13.0" height="5.0" rx="2.2" fill="#fff" stroke="#231f20" stroke-width="1.03"/><line x1="-5.7" y1="0.0" x2="5.7" y2="0.0" stroke="#231f20" stroke-width="0.80"/><line x1="0.0" y1="-2.5" x2="0.0" y2="2.5" stroke="#231f20" stroke-width="0.80"/></g>
<path d="M1126.3 320.4 L1141 320.4 L1140 368.5 L1147 376.6 L1128.7 385.2 L1119 368 L1126 368.5 Z" fill="#231f20" stroke="#231f20" stroke-width="0.92" stroke-linejoin="round" />
<path d="M863.7 393 L878 393 L877 443 L884 449.3 L865 458 L855 440.6 L863 442 Z" fill="#231f20" stroke="#231f20" stroke-width="0.92" stroke-linejoin="round" />
<path d="M1022.9 580 L1022.9 482 Q1023 474 1031 474.5 Q1052.7 478.3 1074.3 485.3 Q1104.5 490.0 1134.8 498.9 Q1163.1 503.2 1191.4 511.6 Q1219.2 515.8 1247.0 524.2 Q1258.5 525.5 1259 533 L1259 684 L1252 684 L1252 536 Q1252 530.5 1247 529.5" fill="#fff" stroke="#231f20" stroke-width="1.03" stroke-linejoin="round" />
<path d="M1024.3 482 Q1050 485 1074.3 488.5 Q1100 494 1134.8 501.5 Q1160 507 1191.4 514.5 Q1220 521 1248 530" fill="none" stroke="#231f20" stroke-width="0.92" stroke-linejoin="round" />
<line x1="1024.3" y1="519.3" x2="1257.0" y2="568.4" stroke="#231f20" stroke-width="1.03" />
<line x1="1074.3" y1="486.5" x2="1074.3" y2="588.6" stroke="#231f20" stroke-width="1.03" />
<line x1="1134.8" y1="500.0" x2="1134.8" y2="603.0" stroke="#231f20" stroke-width="1.03" />
<line x1="1191.4" y1="513.0" x2="1191.4" y2="616.0" stroke="#231f20" stroke-width="1.03" />
<line x1="1208.0" y1="674.0" x2="1252.7" y2="684.0" stroke="#231f20" stroke-width="0.80" />
<polygon points="772.1,659.5 1034.4,581.6 1251.3,629.1 985.3,756.3" fill="#fff" stroke="#231f20" stroke-width="1.15" stroke-linejoin="round" />
<polygon points="772.1,659.5 772.1,695.6 985.3,792.4 985.3,756.3" fill="#fff" stroke="#231f20" stroke-width="1.15" stroke-linejoin="round" />
<polygon points="985.3,756.3 985.3,792.4 1251.3,653.7 1251.3,629.1" fill="#fff" stroke="#231f20" stroke-width="1.15" stroke-linejoin="round" />
<polyline points="786.0,663.0 1036.0,588.0 1240.0,633.0 988.0,752.0 786.0,663.0" fill="none" stroke="#231f20" stroke-width="0.92" stroke-linejoin="round" />
<line x1="1036.0" y1="581.6" x2="1036.0" y2="588.0" stroke="#231f20" stroke-width="0.92" />
<path d="M777.3 698 L781 724.5 Q784 726.5 787.4 724.5 L793.2 705.5" fill="#fff" stroke="#231f20" stroke-width="1.15" stroke-linejoin="round" />
<path d="M991 789.5 L994 808 Q999 811 1004 808 L1008.4 782" fill="#fff" stroke="#231f20" stroke-width="1.15" stroke-linejoin="round" />
<path d="M1040 590 Q1130 592 1236 634" fill="none" stroke="#231f20" stroke-width="0.92" stroke-linejoin="round" />
<path d="M1040 596 Q1130 600 1230 638" fill="none" stroke="#231f20" stroke-width="0.92" stroke-linejoin="round" />
<rect x="951" y="680" width="10.5" height="35" rx="2" fill="#fff" stroke="#231f20" stroke-width="1.03"/>
<rect x="1053" y="639" width="10.5" height="34" rx="2" fill="#fff" stroke="#231f20" stroke-width="1.03"/>
<line x1="832.0" y1="680.0" x2="1040.0" y2="603.0" stroke="#231f20" stroke-width="0.92" />
<line x1="896.0" y1="712.0" x2="1110.0" y2="628.0" stroke="#231f20" stroke-width="0.92" />
<line x1="866.0" y1="694.0" x2="1080.0" y2="612.0" stroke="#231f20" stroke-width="0.92" />
<polygon points="866.0,703.0 1106.0,610.0 1109.0,613.0 869.0,706.0" fill="#fff" stroke="#231f20" stroke-width="0.92" stroke-linejoin="round" />
<path d="M812.0 664.0 Q857.5 662.0 881.0 695.6 Q933.5 703.2 986.0 746.0 M976.0 751.0 Q927.5 710.2 878.0 700.6 Q854.5 669.0 811.0 668.0" fill="none" stroke="#231f20" stroke-width="1.15" stroke-linejoin="round"/>
<path d="M833.0 656.8 Q878.1 654.8 901.4 687.8 Q954.0 695.1 1006.5 736.2 M996.5 741.2 Q948.0 702.1 898.4 692.8 Q875.1 661.8 832.0 660.8" fill="none" stroke="#231f20" stroke-width="1.15" stroke-linejoin="round"/>
<path d="M854.0 649.6 Q898.7 647.6 921.8 680.0 Q974.4 687.0 1027.0 726.4 M1017.0 731.4 Q968.4 694.0 918.8 685.0 Q895.7 654.6 853.0 653.6" fill="none" stroke="#231f20" stroke-width="1.15" stroke-linejoin="round"/>
<path d="M875.0 642.4 Q919.4 640.4 942.2 672.2 Q994.9 678.9 1047.5 716.6 M1037.5 721.6 Q988.9 685.9 939.2 677.2 Q916.4 647.4 874.0 646.4" fill="none" stroke="#231f20" stroke-width="1.15" stroke-linejoin="round"/>
<path d="M896.0 635.2 Q940.0 633.2 962.6 664.4 Q1015.3 670.8 1068.0 706.8 M1058.0 711.8 Q1009.3 677.8 959.6 669.4 Q937.0 640.2 895.0 639.2" fill="none" stroke="#231f20" stroke-width="1.15" stroke-linejoin="round"/>
<path d="M917.0 628.0 Q960.6 626.0 983.0 656.6 Q1035.8 662.7 1088.5 697.0 M1078.5 702.0 Q1029.8 669.7 980.0 661.6 Q957.6 633.0 916.0 632.0" fill="none" stroke="#231f20" stroke-width="1.15" stroke-linejoin="round"/>
<path d="M938.0 620.8 Q981.2 618.8 1003.4 648.8 Q1056.2 654.6 1109.0 687.2 M1099.0 692.2 Q1050.2 661.6 1000.4 653.8 Q978.2 625.8 937.0 624.8" fill="none" stroke="#231f20" stroke-width="1.15" stroke-linejoin="round"/>
<path d="M959.0 613.6 Q1001.8 611.6 1023.8 641.0 Q1076.7 646.5 1129.5 677.4 M1119.5 682.4 Q1070.7 653.5 1020.8 646.0 Q998.8 618.6 958.0 617.6" fill="none" stroke="#231f20" stroke-width="1.15" stroke-linejoin="round"/>
<path d="M980.0 606.4 Q1022.4 604.4 1044.2 633.2 Q1097.1 638.4 1150.0 667.6 M1140.0 672.6 Q1091.1 645.4 1041.2 638.2 Q1019.4 611.4 979.0 610.4" fill="none" stroke="#231f20" stroke-width="1.15" stroke-linejoin="round"/>
<path d="M1001.0 599.2 Q1043.0 597.2 1064.6 625.4 Q1117.5 630.3 1170.5 657.8 M1160.5 662.8 Q1111.5 637.3 1061.6 630.4 Q1040.0 604.2 1000.0 603.2" fill="none" stroke="#231f20" stroke-width="1.15" stroke-linejoin="round"/>
<path d="M1022.0 592.0 Q1063.6 590.0 1085.0 617.6 Q1138.0 622.2 1191.0 648.0 M1181.0 653.0 Q1132.0 629.2 1082.0 622.6 Q1060.6 597.0 1021.0 596.0" fill="none" stroke="#231f20" stroke-width="1.15" stroke-linejoin="round"/>
<g transform="translate(881.0 695.6) rotate(-20.0)"><rect x="-8.5" y="-3.2" width="17.0" height="6.5" rx="2.2" fill="#fff" stroke="#231f20" stroke-width="1.03"/><line x1="-7.7" y1="-1.1" x2="7.7" y2="-1.1" stroke="#231f20" stroke-width="0.80"/><line x1="-7.7" y1="1.1" x2="7.7" y2="1.1" stroke="#231f20" stroke-width="0.80"/><line x1="-4.2" y1="-3.2" x2="-4.2" y2="3.2" stroke="#231f20" stroke-width="0.80"/><line x1="0.0" y1="-3.2" x2="0.0" y2="3.2" stroke="#231f20" stroke-width="0.80"/><line x1="4.2" y1="-3.2" x2="4.2" y2="3.2" stroke="#231f20" stroke-width="0.80"/></g>
<g transform="translate(901.4 687.8) rotate(-20.0)"><rect x="-8.5" y="-3.2" width="17.0" height="6.5" rx="2.2" fill="#fff" stroke="#231f20" stroke-width="1.03"/><line x1="-7.7" y1="-1.1" x2="7.7" y2="-1.1" stroke="#231f20" stroke-width="0.80"/><line x1="-7.7" y1="1.1" x2="7.7" y2="1.1" stroke="#231f20" stroke-width="0.80"/><line x1="-4.2" y1="-3.2" x2="-4.2" y2="3.2" stroke="#231f20" stroke-width="0.80"/><line x1="0.0" y1="-3.2" x2="0.0" y2="3.2" stroke="#231f20" stroke-width="0.80"/><line x1="4.2" y1="-3.2" x2="4.2" y2="3.2" stroke="#231f20" stroke-width="0.80"/></g>
<g transform="translate(921.8 680.0) rotate(-20.0)"><rect x="-8.5" y="-3.2" width="17.0" height="6.5" rx="2.2" fill="#fff" stroke="#231f20" stroke-width="1.03"/><line x1="-7.7" y1="-1.1" x2="7.7" y2="-1.1" stroke="#231f20" stroke-width="0.80"/><line x1="-7.7" y1="1.1" x2="7.7" y2="1.1" stroke="#231f20" stroke-width="0.80"/><line x1="-4.2" y1="-3.2" x2="-4.2" y2="3.2" stroke="#231f20" stroke-width="0.80"/><line x1="0.0" y1="-3.2" x2="0.0" y2="3.2" stroke="#231f20" stroke-width="0.80"/><line x1="4.2" y1="-3.2" x2="4.2" y2="3.2" stroke="#231f20" stroke-width="0.80"/></g>
<g transform="translate(942.2 672.2) rotate(-20.0)"><rect x="-8.5" y="-3.2" width="17.0" height="6.5" rx="2.2" fill="#fff" stroke="#231f20" stroke-width="1.03"/><line x1="-7.7" y1="-1.1" x2="7.7" y2="-1.1" stroke="#231f20" stroke-width="0.80"/><line x1="-7.7" y1="1.1" x2="7.7" y2="1.1" stroke="#231f20" stroke-width="0.80"/><line x1="-4.2" y1="-3.2" x2="-4.2" y2="3.2" stroke="#231f20" stroke-width="0.80"/><line x1="0.0" y1="-3.2" x2="0.0" y2="3.2" stroke="#231f20" stroke-width="0.80"/><line x1="4.2" y1="-3.2" x2="4.2" y2="3.2" stroke="#231f20" stroke-width="0.80"/></g>
<g transform="translate(962.6 664.4) rotate(-20.0)"><rect x="-8.5" y="-3.2" width="17.0" height="6.5" rx="2.2" fill="#fff" stroke="#231f20" stroke-width="1.03"/><line x1="-7.7" y1="-1.1" x2="7.7" y2="-1.1" stroke="#231f20" stroke-width="0.80"/><line x1="-7.7" y1="1.1" x2="7.7" y2="1.1" stroke="#231f20" stroke-width="0.80"/><line x1="-4.2" y1="-3.2" x2="-4.2" y2="3.2" stroke="#231f20" stroke-width="0.80"/><line x1="0.0" y1="-3.2" x2="0.0" y2="3.2" stroke="#231f20" stroke-width="0.80"/><line x1="4.2" y1="-3.2" x2="4.2" y2="3.2" stroke="#231f20" stroke-width="0.80"/></g>
<g transform="translate(983.0 656.6) rotate(-20.0)"><rect x="-8.5" y="-3.2" width="17.0" height="6.5" rx="2.2" fill="#fff" stroke="#231f20" stroke-width="1.03"/><line x1="-7.7" y1="-1.1" x2="7.7" y2="-1.1" stroke="#231f20" stroke-width="0.80"/><line x1="-7.7" y1="1.1" x2="7.7" y2="1.1" stroke="#231f20" stroke-width="0.80"/><line x1="-4.2" y1="-3.2" x2="-4.2" y2="3.2" stroke="#231f20" stroke-width="0.80"/><line x1="0.0" y1="-3.2" x2="0.0" y2="3.2" stroke="#231f20" stroke-width="0.80"/><line x1="4.2" y1="-3.2" x2="4.2" y2="3.2" stroke="#231f20" stroke-width="0.80"/></g>
<g transform="translate(1003.4 648.8) rotate(-20.0)"><rect x="-8.5" y="-3.2" width="17.0" height="6.5" rx="2.2" fill="#fff" stroke="#231f20" stroke-width="1.03"/><line x1="-7.7" y1="-1.1" x2="7.7" y2="-1.1" stroke="#231f20" stroke-width="0.80"/><line x1="-7.7" y1="1.1" x2="7.7" y2="1.1" stroke="#231f20" stroke-width="0.80"/><line x1="-4.2" y1="-3.2" x2="-4.2" y2="3.2" stroke="#231f20" stroke-width="0.80"/><line x1="0.0" y1="-3.2" x2="0.0" y2="3.2" stroke="#231f20" stroke-width="0.80"/><line x1="4.2" y1="-3.2" x2="4.2" y2="3.2" stroke="#231f20" stroke-width="0.80"/></g>
<g transform="translate(1023.8 641.0) rotate(-20.0)"><rect x="-8.5" y="-3.2" width="17.0" height="6.5" rx="2.2" fill="#fff" stroke="#231f20" stroke-width="1.03"/><line x1="-7.7" y1="-1.1" x2="7.7" y2="-1.1" stroke="#231f20" stroke-width="0.80"/><line x1="-7.7" y1="1.1" x2="7.7" y2="1.1" stroke="#231f20" stroke-width="0.80"/><line x1="-4.2" y1="-3.2" x2="-4.2" y2="3.2" stroke="#231f20" stroke-width="0.80"/><line x1="0.0" y1="-3.2" x2="0.0" y2="3.2" stroke="#231f20" stroke-width="0.80"/><line x1="4.2" y1="-3.2" x2="4.2" y2="3.2" stroke="#231f20" stroke-width="0.80"/></g>
<g transform="translate(1044.2 633.2) rotate(-20.0)"><rect x="-8.5" y="-3.2" width="17.0" height="6.5" rx="2.2" fill="#fff" stroke="#231f20" stroke-width="1.03"/><line x1="-7.7" y1="-1.1" x2="7.7" y2="-1.1" stroke="#231f20" stroke-width="0.80"/><line x1="-7.7" y1="1.1" x2="7.7" y2="1.1" stroke="#231f20" stroke-width="0.80"/><line x1="-4.2" y1="-3.2" x2="-4.2" y2="3.2" stroke="#231f20" stroke-width="0.80"/><line x1="0.0" y1="-3.2" x2="0.0" y2="3.2" stroke="#231f20" stroke-width="0.80"/><line x1="4.2" y1="-3.2" x2="4.2" y2="3.2" stroke="#231f20" stroke-width="0.80"/></g>
<g transform="translate(1064.6 625.4) rotate(-20.0)"><rect x="-8.5" y="-3.2" width="17.0" height="6.5" rx="2.2" fill="#fff" stroke="#231f20" stroke-width="1.03"/><line x1="-7.7" y1="-1.1" x2="7.7" y2="-1.1" stroke="#231f20" stroke-width="0.80"/><line x1="-7.7" y1="1.1" x2="7.7" y2="1.1" stroke="#231f20" stroke-width="0.80"/><line x1="-4.2" y1="-3.2" x2="-4.2" y2="3.2" stroke="#231f20" stroke-width="0.80"/><line x1="0.0" y1="-3.2" x2="0.0" y2="3.2" stroke="#231f20" stroke-width="0.80"/><line x1="4.2" y1="-3.2" x2="4.2" y2="3.2" stroke="#231f20" stroke-width="0.80"/></g>
<g transform="translate(1085.0 617.6) rotate(-20.0)"><rect x="-8.5" y="-3.2" width="17.0" height="6.5" rx="2.2" fill="#fff" stroke="#231f20" stroke-width="1.03"/><line x1="-7.7" y1="-1.1" x2="7.7" y2="-1.1" stroke="#231f20" stroke-width="0.80"/><line x1="-7.7" y1="1.1" x2="7.7" y2="1.1" stroke="#231f20" stroke-width="0.80"/><line x1="-4.2" y1="-3.2" x2="-4.2" y2="3.2" stroke="#231f20" stroke-width="0.80"/><line x1="0.0" y1="-3.2" x2="0.0" y2="3.2" stroke="#231f20" stroke-width="0.80"/><line x1="4.2" y1="-3.2" x2="4.2" y2="3.2" stroke="#231f20" stroke-width="0.80"/></g>
<g transform="translate(812.0 664.0) rotate(-18.0)"><rect x="-5.5" y="-2.2" width="11.0" height="4.5" rx="2.2" fill="#fff" stroke="#231f20" stroke-width="1.03"/><line x1="-4.7" y1="0.0" x2="4.7" y2="0.0" stroke="#231f20" stroke-width="0.80"/><line x1="0.0" y1="-2.2" x2="0.0" y2="2.2" stroke="#231f20" stroke-width="0.80"/></g>
<g transform="translate(833.0 656.8) rotate(-18.0)"><rect x="-5.5" y="-2.2" width="11.0" height="4.5" rx="2.2" fill="#fff" stroke="#231f20" stroke-width="1.03"/><line x1="-4.7" y1="0.0" x2="4.7" y2="0.0" stroke="#231f20" stroke-width="0.80"/><line x1="0.0" y1="-2.2" x2="0.0" y2="2.2" stroke="#231f20" stroke-width="0.80"/></g>
<g transform="translate(854.0 649.6) rotate(-18.0)"><rect x="-5.5" y="-2.2" width="11.0" height="4.5" rx="2.2" fill="#fff" stroke="#231f20" stroke-width="1.03"/><line x1="-4.7" y1="0.0" x2="4.7" y2="0.0" stroke="#231f20" stroke-width="0.80"/><line x1="0.0" y1="-2.2" x2="0.0" y2="2.2" stroke="#231f20" stroke-width="0.80"/></g>
<g transform="translate(875.0 642.4) rotate(-18.0)"><rect x="-5.5" y="-2.2" width="11.0" height="4.5" rx="2.2" fill="#fff" stroke="#231f20" stroke-width="1.03"/><line x1="-4.7" y1="0.0" x2="4.7" y2="0.0" stroke="#231f20" stroke-width="0.80"/><line x1="0.0" y1="-2.2" x2="0.0" y2="2.2" stroke="#231f20" stroke-width="0.80"/></g>
<g transform="translate(896.0 635.2) rotate(-18.0)"><rect x="-5.5" y="-2.2" width="11.0" height="4.5" rx="2.2" fill="#fff" stroke="#231f20" stroke-width="1.03"/><line x1="-4.7" y1="0.0" x2="4.7" y2="0.0" stroke="#231f20" stroke-width="0.80"/><line x1="0.0" y1="-2.2" x2="0.0" y2="2.2" stroke="#231f20" stroke-width="0.80"/></g>
<g transform="translate(917.0 628.0) rotate(-18.0)"><rect x="-5.5" y="-2.2" width="11.0" height="4.5" rx="2.2" fill="#fff" stroke="#231f20" stroke-width="1.03"/><line x1="-4.7" y1="0.0" x2="4.7" y2="0.0" stroke="#231f20" stroke-width="0.80"/><line x1="0.0" y1="-2.2" x2="0.0" y2="2.2" stroke="#231f20" stroke-width="0.80"/></g>
<g transform="translate(938.0 620.8) rotate(-18.0)"><rect x="-5.5" y="-2.2" width="11.0" height="4.5" rx="2.2" fill="#fff" stroke="#231f20" stroke-width="1.03"/><line x1="-4.7" y1="0.0" x2="4.7" y2="0.0" stroke="#231f20" stroke-width="0.80"/><line x1="0.0" y1="-2.2" x2="0.0" y2="2.2" stroke="#231f20" stroke-width="0.80"/></g>
<g transform="translate(959.0 613.6) rotate(-18.0)"><rect x="-5.5" y="-2.2" width="11.0" height="4.5" rx="2.2" fill="#fff" stroke="#231f20" stroke-width="1.03"/><line x1="-4.7" y1="0.0" x2="4.7" y2="0.0" stroke="#231f20" stroke-width="0.80"/><line x1="0.0" y1="-2.2" x2="0.0" y2="2.2" stroke="#231f20" stroke-width="0.80"/></g>
<g transform="translate(980.0 606.4) rotate(-18.0)"><rect x="-5.5" y="-2.2" width="11.0" height="4.5" rx="2.2" fill="#fff" stroke="#231f20" stroke-width="1.03"/><line x1="-4.7" y1="0.0" x2="4.7" y2="0.0" stroke="#231f20" stroke-width="0.80"/><line x1="0.0" y1="-2.2" x2="0.0" y2="2.2" stroke="#231f20" stroke-width="0.80"/></g>
<g transform="translate(1001.0 599.2) rotate(-18.0)"><rect x="-5.5" y="-2.2" width="11.0" height="4.5" rx="2.2" fill="#fff" stroke="#231f20" stroke-width="1.03"/><line x1="-4.7" y1="0.0" x2="4.7" y2="0.0" stroke="#231f20" stroke-width="0.80"/><line x1="0.0" y1="-2.2" x2="0.0" y2="2.2" stroke="#231f20" stroke-width="0.80"/></g>
<g transform="translate(1022.0 592.0) rotate(-18.0)"><rect x="-5.5" y="-2.2" width="11.0" height="4.5" rx="2.2" fill="#fff" stroke="#231f20" stroke-width="1.03"/><line x1="-4.7" y1="0.0" x2="4.7" y2="0.0" stroke="#231f20" stroke-width="0.80"/><line x1="0.0" y1="-2.2" x2="0.0" y2="2.2" stroke="#231f20" stroke-width="0.80"/></g>
<ellipse cx="814.6" cy="543.1" rx="94.4" ry="91.0" fill="#fff" stroke="#231f20" stroke-width="1.26" />
<text transform="translate(792.5 463.7) scale(1.18 1)" font-family="Liberation Sans" font-size="25" font-weight="bold" fill="#231f20" stroke="#231f20" stroke-width="1.40" text-anchor="start">20x</text>
<text transform="translate(909.0 489.8) scale(1.0 1)" font-family="Liberation Sans" font-size="20" font-weight="bold" fill="#231f20" text-anchor="start">Φ6</text>
<line x1="921.4" y1="494.0" x2="895.0" y2="511.0" stroke="#231f20" stroke-width="0.69" />
<path d="M892.6 512.8 L896.5 506.5 L899.5 511.5 Z" fill="#231f20" stroke="#231f20" stroke-width="0.57" stroke-linejoin="round" />
<line x1="845.0" y1="476.7" x2="885.3" y2="486.8" stroke="#231f20" stroke-width="1.15" />
<line x1="853.6" y1="528.7" x2="895.5" y2="540.2" stroke="#231f20" stroke-width="1.15" />
<g transform="translate(803.1 540) rotate(-20)">
<path d="M2 -9 L10 -5.5 L47 -3.8 Q49.5 -3.8 49.5 -1 L49.5 1 Q49.5 3.8 47 3.8 L10 5.5 L2 9 Z" fill="#fff" stroke="#231f20" stroke-width="1.15"/>
<path d="M10 -5.5 L47 -3.8 Q49.5 -3.8 49.5 -1 L49.5 1 Q49.5 3.8 47 3.8 L10 5.5 Z" fill="#aaa" stroke="#231f20" stroke-width="1.03"/>
<line x1="10.8" y1="-5.5" x2="11.9" y2="5.5" stroke="#231f20" stroke-width="0.69"/>
<line x1="12.4" y1="-5.4" x2="13.5" y2="5.4" stroke="#231f20" stroke-width="0.69"/>
<line x1="14.0" y1="-5.3" x2="15.1" y2="5.3" stroke="#231f20" stroke-width="0.69"/>
<line x1="15.6" y1="-5.2" x2="16.7" y2="5.2" stroke="#231f20" stroke-width="0.69"/>
<line x1="17.2" y1="-5.2" x2="18.3" y2="5.2" stroke="#231f20" stroke-width="0.69"/>
<line x1="18.8" y1="-5.1" x2="19.9" y2="5.1" stroke="#231f20" stroke-width="0.69"/>
<line x1="20.4" y1="-5.0" x2="21.5" y2="5.0" stroke="#231f20" stroke-width="0.69"/>
<line x1="22.0" y1="-4.9" x2="23.1" y2="4.9" stroke="#231f20" stroke-width="0.69"/>
<line x1="23.6" y1="-4.9" x2="24.7" y2="4.9" stroke="#231f20" stroke-width="0.69"/>
<line x1="25.2" y1="-4.8" x2="26.3" y2="4.8" stroke="#231f20" stroke-width="0.69"/>
<line x1="26.8" y1="-4.7" x2="27.9" y2="4.7" stroke="#231f20" stroke-width="0.69"/>
<line x1="28.4" y1="-4.7" x2="29.5" y2="4.7" stroke="#231f20" stroke-width="0.69"/>
<line x1="30.0" y1="-4.6" x2="31.1" y2="4.6" stroke="#231f20" stroke-width="0.69"/>
<line x1="31.6" y1="-4.5" x2="32.7" y2="4.5" stroke="#231f20" stroke-width="0.69"/>
<line x1="33.2" y1="-4.4" x2="34.3" y2="4.4" stroke="#231f20" stroke-width="0.69"/>
<line x1="34.8" y1="-4.4" x2="35.9" y2="4.4" stroke="#231f20" stroke-width="0.69"/>
<line x1="36.4" y1="-4.3" x2="37.5" y2="4.3" stroke="#231f20" stroke-width="0.69"/>
<line x1="38.0" y1="-4.2" x2="39.1" y2="4.2" stroke="#231f20" stroke-width="0.69"/>
<line x1="39.6" y1="-4.1" x2="40.7" y2="4.1" stroke="#231f20" stroke-width="0.69"/>
<line x1="41.2" y1="-4.1" x2="42.3" y2="4.1" stroke="#231f20" stroke-width="0.69"/>
<line x1="42.8" y1="-4.0" x2="43.9" y2="4.0" stroke="#231f20" stroke-width="0.69"/>
<line x1="44.4" y1="-3.9" x2="45.5" y2="3.9" stroke="#231f20" stroke-width="0.69"/>
<line x1="46.0" y1="-3.8" x2="47.1" y2="3.8" stroke="#231f20" stroke-width="0.69"/>
<line x1="47.6" y1="-3.8" x2="48.7" y2="3.8" stroke="#231f20" stroke-width="0.69"/>
<ellipse cx="0" cy="0" rx="5.5" ry="10.6" fill="#fff" stroke="#231f20" stroke-width="1.26"/>
<path d="M-0.5 -6 L0.5 6 M-4 0.3 L4 -0.3" stroke="#231f20" stroke-width="2.00"/>
<path d="M-0.5 -6 L0.5 6 M-4 0.3 L4 -0.3" stroke="#fff" stroke-width="0.80"/>
</g>
<line x1="851.0" y1="523.0" x2="877.0" y2="517.0" stroke="#231f20" stroke-width="1.03" stroke-dasharray="3.5 2.5"/>
<ellipse cx="879.6" cy="516.8" rx="2.2" ry="3.2" fill="none" stroke="#231f20" stroke-width="1.03" transform="rotate(-20 879.6 516.8)" />
<ellipse cx="755.6" cy="552.0" rx="12.0" ry="23.5" fill="none" stroke="#231f20" stroke-width="1.15" transform="rotate(-12 755.6 552.0)" />
<line x1="726.2" y1="555.0" x2="775.0" y2="541.2" stroke="#231f20" stroke-width="1.26" />
<line x1="730.0" y1="568.8" x2="777.5" y2="553.8" stroke="#231f20" stroke-width="1.26" />
<path d="M775 541.3 L782.5 539.5 L784 550.5 L777.5 553.8 Z" fill="#fff" stroke="#231f20" stroke-width="1.03" stroke-linejoin="round" />
<path d="M782.5 540 L790 538.5 L795 540.6 L789 548 L784 550.5 Z" fill="#fff" stroke="#231f20" stroke-width="1.03" stroke-linejoin="round" />
<path d="M784 544 L791 542 M786 547.5 L792 544" fill="none" stroke="#231f20" stroke-width="0.69" stroke-linejoin="round" />
<path d="M746.5 529.5 C752 526 762 530 766 537" fill="none" stroke="#231f20" stroke-width="3.20" stroke-linejoin="round" />
<path d="M759 535 L769 534 L764.5 547 Z" fill="#231f20" stroke="#231f20" stroke-width="0.69" stroke-linejoin="round" />
<path d="M767.5 553.5 C769 562 767 571 763 575.5" fill="none" stroke="#231f20" stroke-width="3.20" stroke-linejoin="round" />
<text transform="translate(805 571.5) rotate(-21) scale(0.9 1)" font-family="Liberation Sans" font-size="21" fill="#231f20" letter-spacing="0.6">M6x30!!!</text>
<polygon points="909.5,548.5 910.5,548.4 911.6,548.5 912.7,548.7 913.9,548.9 915.1,549.2 916.3,549.5 917.5,549.9 918.8,550.4 920.1,550.9 921.5,551.6 922.8,552.2 924.2,553.0 925.6,553.8 927.0,554.7 928.4,555.6 929.9,556.6 931.3,557.7 932.8,558.9 934.3,560.1 935.7,561.4 937.2,562.7 938.7,564.1 940.2,565.6 941.7,567.2 943.2,568.8 944.7,570.5 946.2,572.3 947.7,574.1 949.2,576.0 950.6,577.9 952.1,580.0 953.6,582.1 955.0,584.2 956.4,586.5 957.8,588.8 959.3,591.2 960.6,593.6 962.0,596.1 963.4,598.7 964.7,601.3 965.3,601.1 964.1,598.3 962.8,595.7 961.5,593.1 960.2,590.6 958.9,588.2 957.6,585.8 956.2,583.5 954.8,581.2 953.4,579.1 952.0,576.9 950.6,574.9 949.2,572.9 947.8,571.0 946.4,569.1 944.9,567.3 943.5,565.6 942.0,563.9 940.6,562.3 939.2,560.8 937.7,559.3 936.3,557.9 934.8,556.5 933.4,555.2 931.9,554.0 930.5,552.8 929.1,551.7 927.6,550.7 926.2,549.7 924.8,548.8 923.4,547.9 922.0,547.1 920.7,546.4 919.3,545.7 918.0,545.1 916.6,544.5 915.3,544.0 914.0,543.6 912.7,543.2 911.4,542.8 910.1,542.5" fill="#231f20" stroke="none"/>
<g transform="translate(462.3 159.4) rotate(157.0)">
<path d="M1 -1.7 L21.4 -1.7 L23.9 0 L21.4 1.7 L1 1.7 Z" fill="#fff" stroke="#231f20" stroke-width="1.26"/>
<ellipse cx="0" cy="0" rx="1.9" ry="3.7" fill="#fff" stroke="#231f20" stroke-width="1.50"/>
<path d="M14.3 -6.5 C9.8 -7.5 8.8 -3 9.8 0 C10.8 3.5 11.8 6.5 15.3 6.5" fill="none" stroke="#231f20" stroke-width="1.60"/>
</g>
<g transform="translate(472.2 162.2) rotate(154.5)">
<path d="M1 -1.7 L19.3 -1.7 L21.8 0 L19.3 1.7 L1 1.7 Z" fill="#fff" stroke="#231f20" stroke-width="1.26"/>
<ellipse cx="0" cy="0" rx="1.9" ry="3.7" fill="#fff" stroke="#231f20" stroke-width="1.50"/>
<path d="M13.3 -6.5 C8.8 -7.5 7.8 -3 8.8 0 C9.8 3.5 10.8 6.5 14.3 6.5" fill="none" stroke="#231f20" stroke-width="1.60"/>
</g>
<g transform="translate(88.4 304.0) rotate(-20.9)">
<path d="M1 -1.7 L23.5 -1.7 L26.0 0 L23.5 1.7 L1 1.7 Z" fill="#fff" stroke="#231f20" stroke-width="1.26"/>
<ellipse cx="0" cy="0" rx="1.9" ry="3.7" fill="#fff" stroke="#231f20" stroke-width="1.50"/>
<path d="M15.2 -6.5 C10.7 -7.5 9.7 -3 10.7 0 C11.7 3.5 12.7 6.5 16.2 6.5" fill="none" stroke="#231f20" stroke-width="1.60"/>
</g>
<g transform="translate(97.3 308.4) rotate(-21.2)">
<path d="M1 -1.7 L21.8 -1.7 L24.3 0 L21.8 1.7 L1 1.7 Z" fill="#fff" stroke="#231f20" stroke-width="1.26"/>
<ellipse cx="0" cy="0" rx="1.9" ry="3.7" fill="#fff" stroke="#231f20" stroke-width="1.50"/>
<path d="M14.5 -6.5 C10.0 -7.5 9.0 -3 10.0 0 C11.0 3.5 12.0 6.5 15.5 6.5" fill="none" stroke="#231f20" stroke-width="1.60"/>
</g>
<g transform="translate(42.0 715.2) rotate(-20.0)">
<path d="M1 -1.7 L23.0 -1.7 L25.5 0 L23.0 1.7 L1 1.7 Z" fill="#fff" stroke="#231f20" stroke-width="1.26"/>
<ellipse cx="0" cy="0" rx="1.9" ry="3.7" fill="#fff" stroke="#231f20" stroke-width="1.50"/>
<path d="M15.0 -6.5 C10.5 -7.5 9.5 -3 10.5 0 C11.5 3.5 12.5 6.5 16.0 6.5" fill="none" stroke="#231f20" stroke-width="1.60"/>
</g>
<g transform="translate(42.0 724.2) rotate(-20.0)">
<path d="M1 -1.7 L23.0 -1.7 L25.5 0 L23.0 1.7 L1 1.7 Z" fill="#fff" stroke="#231f20" stroke-width="1.26"/>
<ellipse cx="0" cy="0" rx="1.9" ry="3.7" fill="#fff" stroke="#231f20" stroke-width="1.50"/>
<path d="M15.0 -6.5 C10.5 -7.5 9.5 -3 10.5 0 C11.5 3.5 12.5 6.5 16.0 6.5" fill="none" stroke="#231f20" stroke-width="1.60"/>
</g>
<g transform="translate(125.8 655.6) rotate(4.8)">
<path d="M1 -1.7 L31.2 -1.7 L33.7 0 L31.2 1.7 L1 1.7 Z" fill="#fff" stroke="#231f20" stroke-width="1.26"/>
<ellipse cx="0" cy="0" rx="1.9" ry="3.7" fill="#fff" stroke="#231f20" stroke-width="1.50"/>
<path d="M18.7 -6.5 C14.2 -7.5 13.2 -3 14.2 0 C15.2 3.5 16.2 6.5 19.7 6.5" fill="none" stroke="#231f20" stroke-width="1.60"/>
</g>
<g transform="translate(133.0 661.0) rotate(5.0)">
<path d="M1 -1.7 L14.6 -1.7 L17.1 0 L14.6 1.7 L1 1.7 Z" fill="#fff" stroke="#231f20" stroke-width="1.26"/>
<ellipse cx="0" cy="0" rx="1.9" ry="3.7" fill="#fff" stroke="#231f20" stroke-width="1.50"/>
<path d="M11.2 -6.5 C6.7 -7.5 5.7 -3 6.7 0 C7.7 3.5 8.7 6.5 12.2 6.5" fill="none" stroke="#231f20" stroke-width="1.60"/>
</g>
<g transform="translate(226.7 617.8) rotate(3.5)">
<path d="M1 -1.7 L33.5 -1.7 L36.0 0 L33.5 1.7 L1 1.7 Z" fill="#fff" stroke="#231f20" stroke-width="1.26"/>
<ellipse cx="0" cy="0" rx="1.9" ry="3.7" fill="#fff" stroke="#231f20" stroke-width="1.50"/>
<path d="M19.7 -6.5 C15.2 -7.5 14.2 -3 15.2 0 C16.2 3.5 17.2 6.5 20.7 6.5" fill="none" stroke="#231f20" stroke-width="1.60"/>
</g>
<g transform="translate(234.0 623.0) rotate(5.0)">
<path d="M1 -1.7 L14.6 -1.7 L17.1 0 L14.6 1.7 L1 1.7 Z" fill="#fff" stroke="#231f20" stroke-width="1.26"/>
<ellipse cx="0" cy="0" rx="1.9" ry="3.7" fill="#fff" stroke="#231f20" stroke-width="1.50"/>
<path d="M11.2 -6.5 C6.7 -7.5 5.7 -3 6.7 0 C7.7 3.5 8.7 6.5 12.2 6.5" fill="none" stroke="#231f20" stroke-width="1.60"/>
</g>
<g transform="translate(395.2 586.3) rotate(156.5)">
<path d="M1 -1.7 L25.5 -1.7 L28.0 0 L25.5 1.7 L1 1.7 Z" fill="#fff" stroke="#231f20" stroke-width="1.26"/>
<ellipse cx="0" cy="0" rx="1.9" ry="3.7" fill="#fff" stroke="#231f20" stroke-width="1.50"/>
<path d="M16.1 -6.5 C11.6 -7.5 10.6 -3 11.6 0 C12.6 3.5 13.6 6.5 17.1 6.5" fill="none" stroke="#231f20" stroke-width="1.60"/>
</g>
<g transform="translate(397.0 598.4) rotate(157.4)">
<path d="M1 -1.7 L19.9 -1.7 L22.4 0 L19.9 1.7 L1 1.7 Z" fill="#fff" stroke="#231f20" stroke-width="1.26"/>
<ellipse cx="0" cy="0" rx="1.9" ry="3.7" fill="#fff" stroke="#231f20" stroke-width="1.50"/>
<path d="M13.6 -6.5 C9.1 -7.5 8.1 -3 9.1 0 C10.1 3.5 11.1 6.5 14.6 6.5" fill="none" stroke="#231f20" stroke-width="1.60"/>
</g>
<g transform="translate(579.1 623.3) rotate(154.3)">
<path d="M1 -1.7 L25.1 -1.7 L27.6 0 L25.1 1.7 L1 1.7 Z" fill="#fff" stroke="#231f20" stroke-width="1.26"/>
<ellipse cx="0" cy="0" rx="1.9" ry="3.7" fill="#fff" stroke="#231f20" stroke-width="1.50"/>
<path d="M15.9 -6.5 C11.4 -7.5 10.4 -3 11.4 0 C12.4 3.5 13.4 6.5 16.9 6.5" fill="none" stroke="#231f20" stroke-width="1.60"/>
</g>
<g transform="translate(579.1 637.0) rotate(156.0)">
<path d="M1 -1.7 L22.8 -1.7 L25.3 0 L22.8 1.7 L1 1.7 Z" fill="#fff" stroke="#231f20" stroke-width="1.26"/>
<ellipse cx="0" cy="0" rx="1.9" ry="3.7" fill="#fff" stroke="#231f20" stroke-width="1.50"/>
<path d="M14.9 -6.5 C10.4 -7.5 9.4 -3 10.4 0 C11.4 3.5 12.4 6.5 15.9 6.5" fill="none" stroke="#231f20" stroke-width="1.60"/>
</g>
<g transform="translate(223.4 796.9) rotate(-19.4)">
<path d="M1 -1.7 L23.1 -1.7 L25.6 0 L23.1 1.7 L1 1.7 Z" fill="#fff" stroke="#231f20" stroke-width="1.26"/>
<ellipse cx="0" cy="0" rx="1.9" ry="3.7" fill="#fff" stroke="#231f20" stroke-width="1.50"/>
<path d="M15.0 -6.5 C10.5 -7.5 9.5 -3 10.5 0 C11.5 3.5 12.5 6.5 16.0 6.5" fill="none" stroke="#231f20" stroke-width="1.60"/>
</g>
<g transform="translate(223.4 805.9) rotate(-19.2)">
<path d="M1 -1.7 L23.0 -1.7 L25.5 0 L23.0 1.7 L1 1.7 Z" fill="#fff" stroke="#231f20" stroke-width="1.26"/>
<ellipse cx="0" cy="0" rx="1.9" ry="3.7" fill="#fff" stroke="#231f20" stroke-width="1.50"/>
<path d="M15.0 -6.5 C10.5 -7.5 9.5 -3 10.5 0 C11.5 3.5 12.5 6.5 16.0 6.5" fill="none" stroke="#231f20" stroke-width="1.60"/>
</g>
<g transform="translate(446.9 773.1) rotate(-159.9)">
<path d="M1 -1.7 L22.8 -1.7 L25.3 0 L22.8 1.7 L1 1.7 Z" fill="#fff" stroke="#231f20" stroke-width="1.26"/>
<ellipse cx="0" cy="0" rx="1.9" ry="3.7" fill="#fff" stroke="#231f20" stroke-width="1.50"/>
<path d="M14.9 -6.5 C10.4 -7.5 9.4 -3 10.4 0 C11.4 3.5 12.4 6.5 15.9 6.5" fill="none" stroke="#231f20" stroke-width="1.60"/>
</g>
<g transform="translate(440.0 776.9) rotate(-159.1)">
<path d="M1 -1.7 L22.2 -1.7 L24.7 0 L22.2 1.7 L1 1.7 Z" fill="#fff" stroke="#231f20" stroke-width="1.26"/>
<ellipse cx="0" cy="0" rx="1.9" ry="3.7" fill="#fff" stroke="#231f20" stroke-width="1.50"/>
<path d="M14.6 -6.5 C10.1 -7.5 9.1 -3 10.1 0 C11.1 3.5 12.1 6.5 15.6 6.5" fill="none" stroke="#231f20" stroke-width="1.60"/>
</g>
<g transform="translate(540.6 725.6) rotate(-159.8)">
<path d="M1 -1.7 L22.7 -1.7 L25.2 0 L22.7 1.7 L1 1.7 Z" fill="#fff" stroke="#231f20" stroke-width="1.26"/>
<ellipse cx="0" cy="0" rx="1.9" ry="3.7" fill="#fff" stroke="#231f20" stroke-width="1.50"/>
<path d="M14.9 -6.5 C10.4 -7.5 9.4 -3 10.4 0 C11.4 3.5 12.4 6.5 15.9 6.5" fill="none" stroke="#231f20" stroke-width="1.60"/>
</g>
<g transform="translate(533.8 730.0) rotate(-157.9)">
<path d="M1 -1.7 L22.5 -1.7 L25.0 0 L22.5 1.7 L1 1.7 Z" fill="#fff" stroke="#231f20" stroke-width="1.26"/>
<ellipse cx="0" cy="0" rx="1.9" ry="3.7" fill="#fff" stroke="#231f20" stroke-width="1.50"/>
<path d="M14.7 -6.5 C10.2 -7.5 9.2 -3 10.2 0 C11.2 3.5 12.2 6.5 15.7 6.5" fill="none" stroke="#231f20" stroke-width="1.60"/>
</g>
<line x1="264.0" y1="621.0" x2="274.0" y2="623.5" stroke="#231f20" stroke-width="0.92" stroke-dasharray="3.5 2.5"/>
<line x1="541.0" y1="641.5" x2="552.0" y2="637.0" stroke="#231f20" stroke-width="0.92" stroke-dasharray="3.5 2.5"/>
<line x1="417.0" y1="180.0" x2="438.0" y2="171.0" stroke="#231f20" stroke-width="0.92" stroke-dasharray="3.5 2.5"/>
<line x1="422.0" y1="181.0" x2="450.0" y2="173.0" stroke="#231f20" stroke-width="0.92" stroke-dasharray="3.5 2.5"/>
</svg></body></html>
